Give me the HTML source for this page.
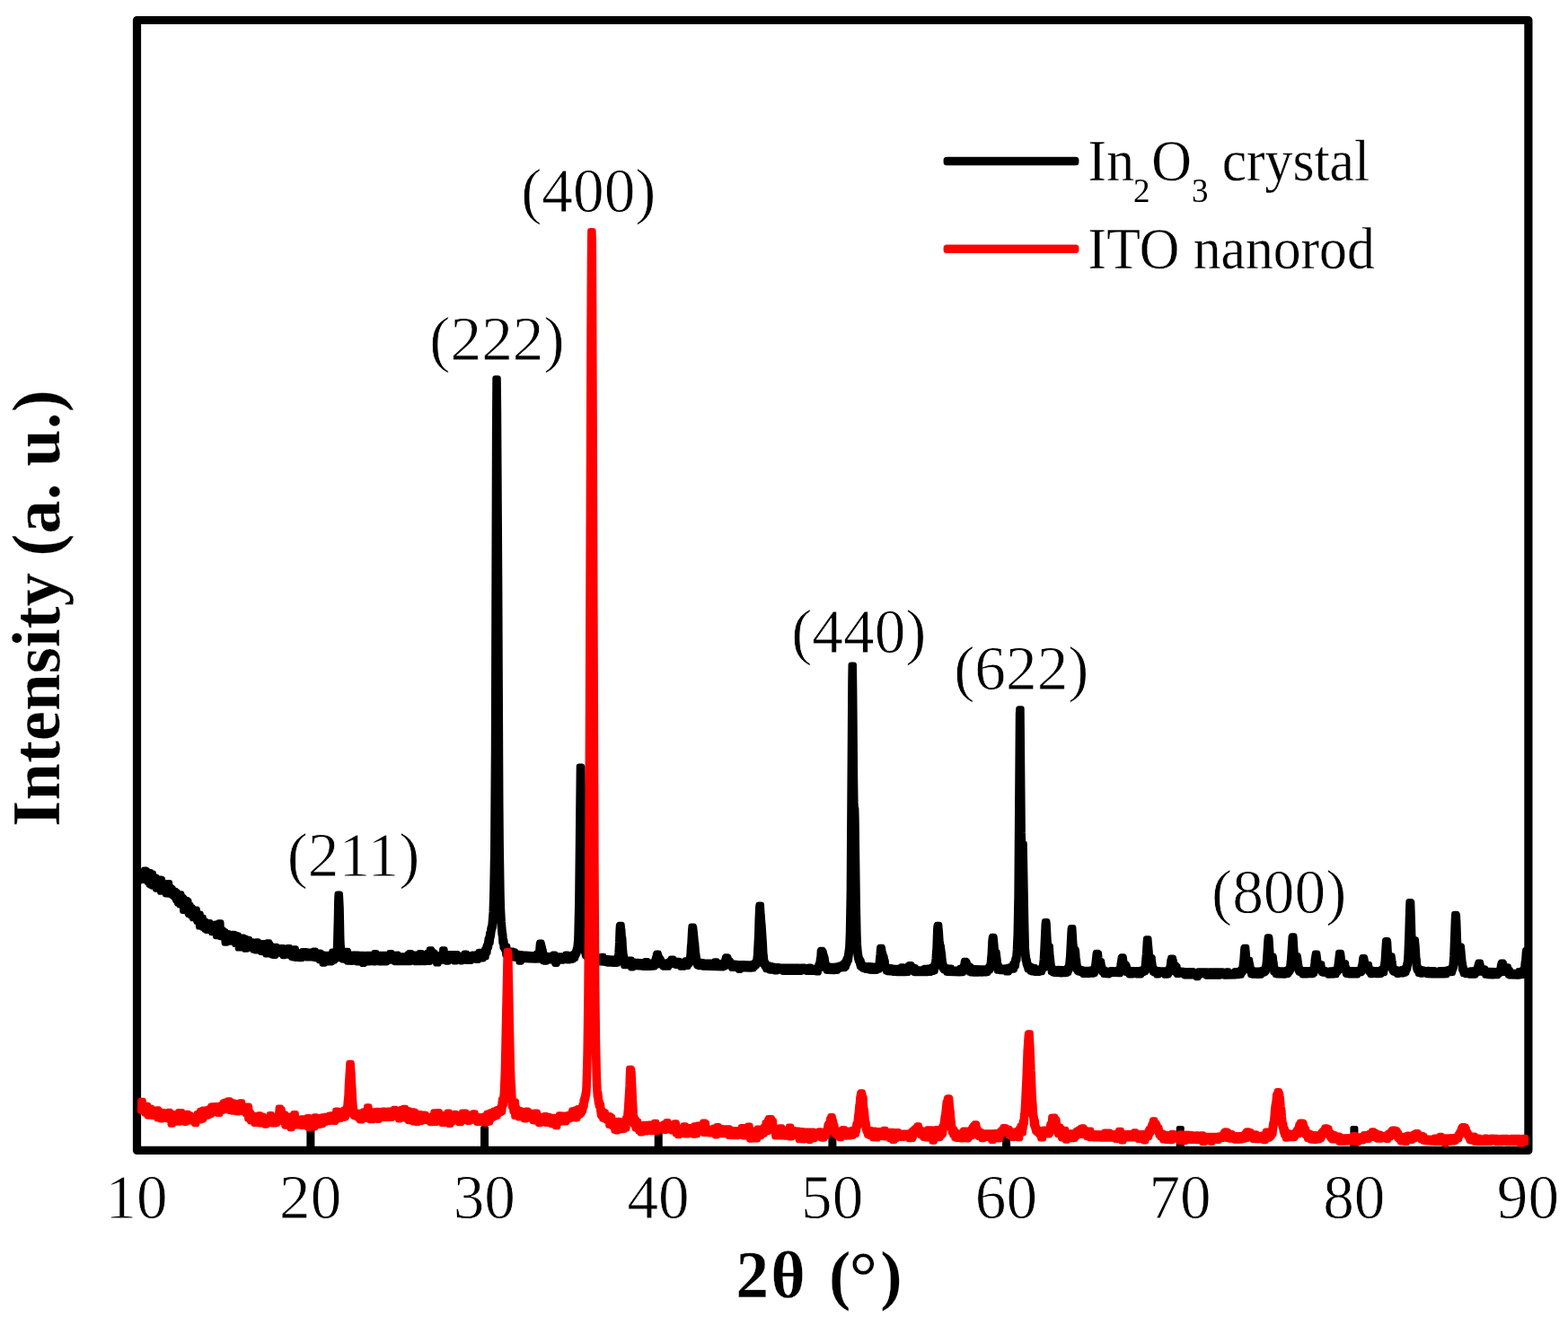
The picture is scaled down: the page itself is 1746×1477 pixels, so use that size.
<!DOCTYPE html>
<html lang="en"><head><meta charset="utf-8">
<style>
html,body{margin:0;padding:0;background:#fff;}
body{width:1746px;height:1477px;overflow:hidden;}
svg{display:block;}
text{font-family:"Liberation Serif","DejaVu Serif",serif;fill:#000;stroke:#fff;stroke-width:0.8px;paint-order:fill stroke;}
.b{font-weight:bold;stroke-width:0.3px;}
.lg text{stroke-width:0.35px;}
.lg .ns{stroke:none;}
</style></head>
<body>
<svg width="1746" height="1477" viewBox="0 0 1746 1477">
<rect x="0" y="0" width="1746" height="1477" fill="#fff"/>
<g fill="#000"><rect x="341.38" y="1254.0" width="9.0" height="27.0" rx="2.5"/><rect x="535.05" y="1254.0" width="9.0" height="27.0" rx="2.5"/><rect x="728.73" y="1254.0" width="9.0" height="27.0" rx="2.5"/><rect x="922.40" y="1254.0" width="9.0" height="27.0" rx="2.5"/><rect x="1116.08" y="1254.0" width="9.0" height="27.0" rx="2.5"/><rect x="1309.75" y="1254.0" width="9.0" height="27.0" rx="2.5"/><rect x="1503.42" y="1254.0" width="9.0" height="27.0" rx="2.5"/></g>
<rect x="152.5" y="22.5" width="1549.4" height="1258.9" fill="none" stroke="#000" stroke-width="9.2" stroke-linejoin="round"/>
<g stroke-linejoin="round" stroke-width="6.4"><path d="M156.2 970.8L156.5 971.1L157.3 971.1L157.6 972.8L158 971.1L158.8 971.1L159.2 970L159.6 970L160 968.8L163.1 968.8L163.5 969.2L163.8 969.2L164.2 971.7L164.6 971.7L165 971.2L168.1 971.2L168.5 972.8L170.8 972.8L171.2 976.7L174.3 976.7L174.7 980.2L176.2 980.1L176.6 978.7L179.7 978.7L180.1 979.3L180.9 979.3L181.3 985.2L183.2 985.2L183.6 986L184 986L184.4 985.6L185.5 985.6L185.9 983.3L189 983.3L189.4 988.2L191.3 988.2L191.7 989.1L192.5 989.1L192.9 991.9L196 991.9L196.4 993.1L197.5 993.1L197.9 996L198.7 996L199.1 995.5L202.2 995.5L202.6 998.8L204.1 998.8L204.5 999.1L204.9 1000.2L205.7 1000.2L206.1 1002L207.6 1002L209.2 1002.1L209.5 1003.5L210.3 1003.5L210.7 1007.2L211.1 1007.6L212.3 1007.6L212.6 1010.5L214.6 1010.5L215 1014.5L215.7 1014.5L216.1 1014L216.5 1012.7L219.6 1012.7L220.4 1017.6L223.5 1017.6L223.9 1021.8L226.6 1021.8L227 1025.4L229.3 1025.4L229.7 1027.2L234.3 1027.3L234.7 1028.6L236.3 1028.6L236.7 1029.8L238.6 1029.8L239 1030L239.4 1028.6L242.5 1028.6L242.9 1032L243.2 1027.4L246.3 1027.4L246.7 1034.5L247.5 1034.5L247.9 1035.5L249.1 1035.5L249.4 1037.1L251.4 1037.1L251.8 1039.3L254.9 1039.3L255.2 1040.6L258 1040.6L258.3 1040L261.4 1040L261.8 1040.2L262.2 1040.2L262.6 1040.9L264.2 1040.9L264.5 1041.4L265.7 1041.4L266.1 1045.7L267.6 1045.7L268 1043.6L271.1 1043.6L271.5 1043.7L271.9 1044.8L274.2 1044.8L274.6 1046.6L275 1045.9L278.1 1045.9L278.5 1047.8L279.6 1047.9L280 1048.2L280.8 1048.2L281.2 1048.4L281.6 1048.4L282 1049L283.5 1049L283.9 1049.1L284.3 1049.4L284.7 1048.5L287.8 1048.5L288.2 1050.9L290.5 1050.9L290.9 1052.6L291.3 1052.8L291.7 1050.2L294.8 1050.2L295.1 1052L295.5 1052L295.9 1054L296.7 1054L297.1 1049.4L300.2 1049.4L300.6 1051.1L301.3 1051.2L301.7 1053L302.9 1053.1L303.3 1055L305.2 1055L305.6 1054L308.7 1054L309.1 1055.9L310.2 1055.9L310.6 1056.3L312.2 1056.3L312.6 1055.3L315.7 1055.3L316.1 1055.8L318.4 1055.8L318.8 1057.5L319.5 1057.7L319.9 1055.2L323 1055.2L323.4 1056.9L323.8 1057.3L325.7 1057.3L326.1 1057.9L326.5 1056.5L329.6 1056.5L330 1059.9L331.2 1060L331.5 1060.3L335.8 1060.4L336.2 1059.1L339.3 1059.1L340.8 1059.2L342.4 1059.4L342.8 1059.6L345.1 1059.6L345.5 1059.9L348.2 1059.9L348.6 1058.6L351.7 1058.6L352.1 1060.3L353.2 1060.3L353.6 1062L354 1062L354.4 1060.7L357.5 1060.7L357.9 1062.5L360.6 1062.5L361 1062.7L369.1 1062.9L369.5 1059.7L372.6 1059.7L373 1059.9L373.8 1059.9L374.1 1053.3L374.9 1024.2L375.3 1002.3L375.7 995.8L378.8 995.8L379.6 1011L380.3 1045.8L380.7 1054.2L381.5 1060.9L382.7 1060.9L383.1 1063.3L384.2 1063.3L384.6 1059L387.7 1059L388.1 1062.2L388.5 1062.2L388.9 1065.5L389.3 1065.6L389.6 1064.1L391.2 1064.1L391.6 1062.6L394.7 1062.6L395.1 1065.8L395.4 1062.8L398.9 1062.8L399.3 1064.5L399.7 1064.5L400.1 1062.9L405.1 1062.9L405.5 1064.5L406.7 1064.5L407.1 1062.9L416 1062.9L416.4 1061.3L419.5 1061.3L419.8 1062.9L433 1062.9L433.4 1061.3L436.5 1061.3L436.9 1062.9L437.3 1062.9L437.7 1064.5L438.1 1062.9L443.5 1062.8L443.9 1064.4L452.8 1064.4L453.2 1062.8L454.7 1062.8L455.1 1061.2L458.2 1061.2L458.6 1064.4L460.5 1064.4L460.9 1062.8L466.3 1062.8L466.7 1061.1L469.8 1061.1L470.2 1062.7L474.8 1062.7L475.2 1061L477.6 1061L477.9 1057.5L481 1057.5L481.4 1058.1L481.8 1059.7L482.2 1059.7L482.6 1060.4L484.1 1060.4L484.5 1062.5L486.1 1062.5L486.5 1065.7L487.6 1065.7L488 1064L491.1 1064L491.5 1062.1L491.9 1062.1L492.3 1057.5L495.4 1057.5L495.8 1062L496.9 1062L497.3 1062.2L509.7 1062.1L510.1 1063.6L512.4 1063.6L512.8 1065L514.4 1065L514.7 1063.4L516.3 1063.3L516.7 1061.7L519.8 1061.7L520.2 1063.1L522.5 1063.1L522.9 1064.5L523.6 1064.5L525.2 1064.3L525.6 1062.7L528.7 1062.7L529.1 1063.8L530.2 1063.6L530.6 1062L532.2 1061.9L532.6 1060L535.7 1060L536 1061L536.8 1061L537.2 1059.7L537.6 1059.4L538.8 1059.4L539.1 1057.4L539.5 1056.7L540.3 1056.7L540.7 1053.7L541.1 1052.5L541.8 1052.5L542.6 1046.3L543 1044.5L543.4 1044.5L543.8 1044.1L544.2 1039.1L544.6 1039.1L544.9 1038.6L545.3 1035L545.7 1032.9L546.5 1030.6L547.7 1015.7L548.4 991.6L549.2 946.8L550 833.4L551.1 481.3L551.5 421.5L554.6 421.5L555 456.4L556.2 658.5L557.3 894.3L557.7 940.7L558.5 994.6L558.9 1010.5L559.7 1026.5L560.8 1038.8L561.2 1040.2L561.6 1046.4L562 1046.4L562.4 1048.2L562.8 1052.5L563.2 1052.5L563.5 1053.7L565.1 1053.7L565.5 1058L565.9 1058L566.2 1058.4L567.8 1058.4L568.2 1058.7L571.3 1058.7L571.7 1059.1L572.4 1059.1L572.8 1059.5L574 1059.5L574.4 1061.5L575.9 1061.5L576.3 1061.7L577.1 1061.7L577.5 1062L579 1062L579.4 1062.2L580.2 1062.2L581.4 1062.3L581.7 1064.1L582.5 1064.1L582.9 1062.8L586 1062.8L588.7 1063L591.8 1063.2L596.5 1063.4L596.8 1061.8L598.4 1061.8L598.8 1060.8L599.2 1060.8L599.9 1051.4L600.3 1049.7L603.4 1049.7L603.8 1051.3L604.2 1054.2L604.6 1054.2L605 1057.2L605.4 1057.4L606.5 1063.9L610 1064L610.4 1064.2L615 1064.3L615.4 1062.8L618.5 1062.8L618.9 1064.5L622.4 1064.5L622.8 1066.1L623.2 1064.5L629 1064.4L629.4 1062.8L632.5 1062.8L632.9 1064.3L634 1064.3L634.4 1065.5L634.8 1065.2L635.2 1063.4L636.4 1063.4L636.7 1062.7L637.5 1062.1L638.7 1062.1L639.1 1061.9L640.2 1059.3L641 1056.3L641.4 1055.7L642.2 1047.9L642.5 1040.1L643.3 1004.3L644.9 853.7L648 853.7L648.4 854.1L651.1 1017.4L651.8 1040.6L652.2 1049L653 1056.4L653.4 1056.4L653.8 1059.4L654.2 1059.9L654.6 1059.9L654.9 1062.3L656.1 1063.9L656.5 1064.2L657.3 1064.2L657.7 1063.3L660.8 1063.3L661.1 1063.9L663.5 1063.9L663.8 1065.6L664.2 1065.8L665.8 1065.9L666.2 1066L667.3 1066L668.5 1066.1L668.9 1066.4L669.3 1064.9L672.4 1064.9L672.8 1066.6L673.5 1066.7L673.9 1067L676.6 1067.1L677 1067.3L679.3 1067.4L683.6 1067.8L684 1069.3L684.4 1069.2L684.8 1067.5L685.9 1067.5L686.7 1065.4L687.1 1065.2L687.5 1061.8L688.2 1049.4L688.6 1036.7L689 1030.6L689.4 1030L692.5 1030L692.9 1033.7L693.3 1036.1L693.7 1043.9L694.1 1044.1L694.4 1048.1L694.8 1056.2L695.2 1059.5L695.6 1064.7L696 1064.7L696.4 1068.1L696.8 1068.7L697.9 1068.7L698.3 1068.9L698.7 1069.8L700.3 1069.8L700.6 1068.6L703.7 1068.6L704.1 1070.4L704.5 1070.4L704.9 1070.7L707.2 1070.7L707.6 1072.4L708 1071L711.1 1071L711.5 1071.2L715 1071.3L715.4 1072.9L716.9 1073L717.3 1071.6L717.7 1071.6L718.1 1070.1L721.2 1070.1L721.6 1071.7L727 1071.6L727.4 1072.3L727.8 1071.9L728.1 1071.9L728.5 1068.8L729.3 1065.9L729.7 1065.7L730.1 1062.6L730.5 1061.7L733.6 1061.7L734 1063.4L735.5 1066.9L735.9 1067.5L736.3 1067.5L736.7 1068.5L737 1070.5L737.8 1070.5L738.6 1071.2L739 1071.2L739.4 1072.9L741.7 1073.1L742.1 1071.5L743.6 1071.2L744 1071L744.4 1071L745.2 1069.6L745.6 1069.6L746 1069.4L746.7 1067.8L750.2 1067.7L752.9 1071.2L753.3 1071.3L753.7 1069.9L756.8 1069.9L757.2 1071.5L759.5 1071.5L759.9 1072.9L762.2 1072.6L762.6 1069.4L766.5 1069.3L766.9 1068L767.6 1062.2L768 1054.2L768.4 1051.2L769.2 1035.8L769.6 1031.7L772.7 1031.7L773.1 1033.1L774.2 1043.3L774.6 1048.2L775 1050.1L775.8 1060.1L776.6 1065.3L776.9 1069.1L777.3 1069.1L777.7 1070.2L778.1 1070.7L780 1070.7L780.8 1071.1L781.6 1071.1L783.5 1071.3L783.9 1071.5L792.4 1071.8L795.1 1072L795.5 1070.5L798.6 1070.5L799 1072.1L804.4 1072.1L804.8 1073.2L805.2 1073.2L805.6 1073L806 1070.2L807.1 1066L807.5 1065.5L810.6 1065.5L811 1065.8L811.8 1067.5L812.2 1069.6L813 1069.6L813.7 1069.7L814.1 1071.1L814.5 1071.1L814.9 1072L815.3 1072L815.7 1072.3L820.3 1072.9L820.7 1073.1L823.4 1073.1L823.8 1074.7L824.6 1074.7L825 1073.3L828.1 1073.3L832.7 1073.5L833.1 1075.1L833.5 1075.1L833.9 1073.5L837 1073.5L837.4 1073L837.7 1073L838.1 1072.7L838.5 1072.7L839.3 1072L839.7 1072L840.1 1071.1L841.2 1071.1L842 1063.6L843.2 1041.1L843.6 1025.9L844.3 1010L844.7 1007.6L847.8 1007.6L848.2 1015.8L848.6 1019.7L849 1026.1L849.4 1029.3L850.9 1052.3L851.3 1061.3L851.7 1064.4L852.1 1069.5L852.5 1070.3L852.9 1071.9L853.2 1072.1L853.6 1072.1L854 1074.3L854.4 1074.4L856.7 1074.4L857.1 1074.6L857.5 1075.3L859.8 1075.3L860.2 1075.6L861.8 1075.6L862.1 1077.3L862.9 1077.4L863.3 1076.2L866.8 1076.2L868.7 1076.4L880.7 1076.7L881.1 1078.3L881.5 1076.7L890 1076.7L890.4 1078.3L891.6 1078.3L892 1076.7L896.2 1076.7L896.6 1078.2L899.7 1078.2L900.1 1076.6L903.2 1076.6L903.6 1078L907.5 1077.7L908.2 1077.5L908.6 1077.5L909.8 1076.7L910.2 1076.3L910.6 1074L911.3 1074L912.1 1067.6L912.5 1065.6L912.9 1058.9L913.3 1058L916.4 1058L916.8 1059L917.1 1059L917.5 1059.7L918.3 1063.2L918.7 1064.1L919.1 1066.6L919.5 1066.6L919.9 1070.1L920.6 1073.5L921 1074L921.4 1074L921.8 1075.1L922.2 1075.1L922.6 1075.6L923.3 1075.6L923.7 1075.8L924.9 1075.8L925.3 1077.5L925.7 1075.9L928.4 1075.9L932.2 1075.5L932.6 1075.2L933.8 1075.2L934.2 1074.8L937.3 1074.5L937.7 1073.2L938.8 1073.2L939.2 1071.9L940.4 1071.9L940.8 1071.3L941.2 1068.9L941.5 1068.9L941.9 1066.9L942.7 1066.9L944.3 1054.8L944.6 1048.2L945 1037.7L945.8 992.2L947.4 760.4L947.7 740.6L950.8 740.6L951.2 770.8L952 866.8L952.4 895.2L952.8 900.7L953.2 900.7L953.5 912.3L954.7 1003.9L955.5 1041.7L955.9 1051.7L956.6 1060.5L957.4 1065.4L957.8 1067.1L958.2 1067.9L958.6 1067.9L959 1068.9L959.4 1070.3L959.7 1070.3L960.1 1073.4L960.9 1073.4L961.7 1074.3L962.1 1074.3L963.2 1075.2L963.6 1075.2L965.2 1075.9L965.6 1075.9L965.9 1076.2L966.3 1075.1L969.4 1075.1L969.8 1075.4L971.4 1075.4L971.8 1075.7L975.6 1075.7L976 1076.5L976.4 1076.5L976.8 1075.3L977.2 1075.3L977.6 1074L978.7 1062.7L979.1 1057.3L979.5 1054.9L982.6 1054.9L983 1056.3L983.4 1059.8L984.1 1061.7L984.5 1064.9L985.3 1064.9L985.7 1067.6L986.1 1069.3L986.5 1069.7L986.9 1073.2L987.6 1075.9L988.4 1077.3L989.2 1078.1L989.6 1077.3L992.7 1077.3L993.1 1077.6L995.4 1077.6L995.8 1077.9L1000.8 1078L1001.2 1079.6L1002.7 1079.6L1003.1 1076.4L1006.2 1076.4L1006.6 1078L1007 1078L1007.4 1079.5L1008.2 1079.5L1008.5 1079.3L1009.3 1079.3L1009.7 1078.6L1010.1 1076.5L1010.5 1076.5L1010.9 1074.9L1011.3 1074.9L1012 1074.2L1015.1 1074.2L1015.5 1075L1015.9 1075L1016.3 1076.2L1016.7 1076.2L1018.2 1077L1019.8 1077.1L1020.2 1079L1020.6 1079.3L1020.9 1079.3L1021.3 1079.5L1028.3 1079.5L1028.7 1077.9L1032.2 1077.8L1034.1 1077.7L1034.5 1077.5L1036 1077.5L1036.4 1077L1038.8 1076.9L1039.1 1074.7L1039.5 1073.7L1039.9 1073.7L1040.3 1071.3L1040.7 1067.5L1041.1 1060.4L1041.5 1056.3L1042.2 1035.8L1042.6 1031.2L1043 1030L1046.1 1030L1046.9 1038.6L1047.3 1046.1L1047.7 1050.2L1048.1 1052.2L1048.8 1054L1049.2 1058.1L1050 1063L1050.4 1068.5L1050.8 1071.6L1051.1 1072.3L1051.5 1075.5L1052.3 1075.6L1052.7 1076L1053.1 1077.4L1055.8 1077.4L1056.2 1077.6L1057 1077.6L1057.3 1077.8L1059.7 1077.8L1060.1 1079.5L1067.8 1079.6L1068.2 1078L1070.5 1077.9L1071.3 1076.6L1071.7 1076.6L1072.1 1074.7L1072.5 1074.7L1072.8 1071.6L1073.2 1070L1076.3 1070L1076.7 1070.6L1077.1 1070.6L1077.5 1071.6L1077.9 1073.9L1078.3 1073.9L1078.6 1074.7L1079 1075L1079.8 1075.2L1080.6 1076.3L1081.4 1076.3L1081.7 1078L1083.3 1078L1083.7 1078.3L1085.2 1078.3L1093 1078.4L1097.6 1078.2L1098 1079.2L1099.6 1078.5L1099.9 1078.2L1100.3 1076.1L1100.7 1075.5L1101.1 1075.5L1101.5 1074.5L1101.9 1071.9L1102.3 1066.6L1102.7 1063.1L1103.4 1048.6L1103.8 1044.9L1104.2 1042.9L1107.3 1042.9L1107.7 1045.1L1108.9 1058.5L1110 1060.1L1110.4 1060.1L1111.6 1069.5L1112 1073.8L1112.3 1074.4L1112.7 1074.4L1113.1 1077.1L1114.7 1077.1L1115.1 1077.6L1118.5 1077.7L1118.9 1079.1L1119.3 1079L1119.7 1077.4L1121.6 1077.4L1122 1076.9L1123.6 1076.8L1124 1076.1L1126.7 1076.1L1127.1 1075.1L1127.4 1072.9L1128.6 1072.9L1129.4 1067.7L1129.8 1067.5L1130.2 1066.8L1130.9 1058L1131.7 1039.8L1132.5 999L1134 795.1L1134.4 789.5L1137.5 789.5L1138.7 927.4L1139.1 939.7L1140.6 939.7L1142.2 1028.7L1142.9 1056.8L1143.7 1065.2L1144.1 1067.9L1144.5 1068.2L1144.9 1071.3L1146 1074.2L1146.8 1075.7L1148.7 1075.7L1149.1 1077.6L1149.5 1077.8L1149.9 1077.3L1153 1077.3L1153.4 1079L1154.9 1079.2L1157.3 1078.7L1157.7 1078.7L1158.8 1077.5L1159.6 1076L1160 1076L1160.8 1068.8L1161.5 1056.1L1162.7 1029.4L1163.1 1026.2L1166.2 1026.2L1166.6 1029.2L1167.7 1050.2L1168.1 1053.6L1169.7 1053.6L1170.4 1064.5L1171.2 1070.9L1171.6 1075.3L1172 1075.7L1173.1 1078.8L1173.5 1078.8L1174.7 1079.7L1175.1 1079.7L1175.5 1080L1177 1080.3L1177.4 1079L1184 1079.1L1184.4 1080.4L1185.5 1080.3L1186.7 1079.6L1187.1 1079.6L1187.5 1079L1187.9 1077L1188.6 1077L1189 1075.6L1189.4 1073.3L1190.2 1064.4L1191.4 1041L1191.7 1035.4L1192.1 1033.1L1195.2 1033.1L1196.4 1052.4L1196.8 1056.9L1198.3 1056.9L1198.7 1058.2L1199.1 1061.2L1199.5 1068.2L1199.9 1068.7L1200.3 1073.4L1201 1077.3L1201.4 1077.5L1201.8 1077.5L1202.2 1078.7L1203.4 1078.7L1203.7 1079.1L1204.9 1079.2L1205.3 1079.5L1206.1 1079.5L1206.5 1079.8L1213 1079.9L1213.4 1081.3L1213.8 1081.2L1214.2 1079.6L1215 1079.6L1215.4 1079.3L1215.8 1079.3L1216.1 1078.9L1217.3 1078.9L1217.7 1077.9L1218.5 1073.6L1219.6 1063.1L1220 1060.9L1223.1 1060.9L1223.5 1061.8L1223.9 1061.8L1224.3 1066.6L1224.7 1069.5L1225 1070.1L1226.6 1070.1L1227 1070.5L1227.4 1073.4L1228.5 1078.2L1228.9 1079.2L1229.3 1079.7L1231.2 1079.7L1231.6 1081.5L1235.9 1081.7L1236.3 1080.2L1240.2 1080.2L1240.5 1081.7L1243.2 1081.4L1243.6 1079.7L1245.6 1079.7L1246.3 1076.3L1247.9 1065.9L1248.3 1065.5L1251.4 1065.5L1251.8 1066.9L1252.2 1071L1252.5 1071.9L1252.9 1072.1L1253.3 1073.1L1254.1 1073.1L1254.5 1074.2L1254.9 1074.8L1255.3 1074.8L1256.4 1078.6L1256.8 1080.3L1257.2 1080.1L1261.1 1080.2L1263 1080.3L1263.4 1081.9L1264.6 1081.9L1264.9 1080.3L1268.8 1080.2L1269.2 1081.5L1271.1 1080.9L1271.5 1079L1273.1 1079L1273.5 1078.6L1273.8 1076.3L1275 1062.2L1275.8 1049.1L1276.2 1045.4L1279.3 1045.4L1279.7 1050.6L1280.4 1057.8L1280.8 1064L1281.2 1066.1L1283.1 1066.1L1283.5 1066.4L1283.9 1070.7L1284.7 1075.9L1285.1 1077.7L1285.5 1078.3L1285.9 1078.3L1286.2 1080.4L1286.6 1080.8L1287 1080.2L1290.1 1080.2L1290.5 1081.9L1290.9 1081.9L1291.3 1080.5L1299 1080.5L1299.4 1081.5L1300.2 1081L1300.6 1080.4L1301 1078L1301.3 1078L1301.7 1076.4L1302.1 1074L1302.5 1069.6L1302.9 1068.4L1303.3 1066.7L1306.8 1066.7L1307.2 1068.5L1307.5 1069.4L1308.3 1074.3L1309.5 1074.3L1309.9 1075L1310.3 1075L1310.6 1075.4L1311 1076.1L1311.4 1076.1L1311.8 1078.9L1312.2 1080.7L1315.3 1080.7L1318.4 1080.9L1318.8 1082.6L1319.2 1081.1L1328.8 1081.2L1329.2 1082.8L1333.5 1082.9L1333.9 1081.4L1344.3 1081.5L1344.7 1083.1L1345.9 1083.1L1346.3 1081.5L1361.8 1081.5L1362.2 1083L1364.9 1083L1365.2 1081.4L1368.3 1081.4L1368.7 1082.9L1374.2 1082.7L1374.5 1081.1L1377.6 1081.1L1378 1082.3L1379.6 1082.1L1380.4 1081.6L1380.7 1079.8L1381.5 1079.8L1381.9 1078.1L1382.3 1078.1L1382.7 1076.4L1383.1 1071.8L1383.5 1069.5L1384.2 1058.7L1384.6 1055.4L1385 1054.9L1388.1 1054.9L1389.3 1068.9L1392 1068.9L1392.4 1072.7L1392.7 1072.7L1393.1 1074.8L1393.5 1078.4L1393.9 1078.4L1394.3 1079.5L1395.1 1079.5L1395.5 1080.2L1396.2 1080.2L1396.6 1080.6L1402.4 1080.7L1402.8 1080.4L1404.4 1080.4L1404.8 1080L1406.3 1080L1406.7 1078.9L1407.5 1078.9L1407.9 1076.9L1408.2 1076.9L1409 1070.6L1410.6 1045.9L1411 1043.4L1414 1043.4L1414.4 1045.6L1415.6 1064.6L1418.3 1064.6L1418.7 1066L1419.1 1070.4L1419.5 1071.8L1419.9 1076.3L1420.2 1076.9L1420.6 1079.4L1422.2 1079.4L1422.6 1080.2L1424.5 1080.2L1424.9 1080.4L1428.4 1080.4L1428.8 1081.9L1429.9 1081.7L1430.3 1080.1L1432.6 1080L1433 1079.2L1434.2 1079.2L1434.6 1077.4L1435 1077.4L1435.4 1075.9L1435.7 1071.4L1436.1 1068.7L1437.7 1043.7L1438.1 1042.5L1441.2 1042.5L1441.5 1044.4L1441.9 1052.2L1442.7 1064.1L1445.4 1064.1L1445.8 1065.5L1447.4 1076.6L1447.7 1078.3L1448.1 1078.5L1448.5 1078.5L1448.9 1080.6L1451.2 1081.5L1451.6 1080.3L1458.6 1080.3L1459 1079.9L1460.9 1079.8L1461.3 1079.3L1462.1 1076.1L1462.5 1073.5L1462.8 1068.7L1464 1061.8L1467.1 1061.8L1468.7 1073.6L1472.1 1073.5L1472.5 1076.6L1473.3 1079.2L1473.7 1079.7L1474.9 1079.7L1475.2 1080L1476.4 1080.2L1476.8 1081.8L1480.3 1082L1480.7 1080.4L1483.4 1080.4L1483.8 1080.1L1485.3 1080.1L1485.7 1079.7L1487.2 1079.7L1487.6 1079.6L1488.4 1076.8L1490.3 1061L1493.8 1060.9L1494.2 1063.2L1495 1070.3L1495.4 1072.4L1498.1 1072.4L1498.9 1072.5L1499.3 1075.8L1499.6 1077.4L1500 1078.1L1500.4 1078.1L1500.8 1080.4L1501.2 1081.4L1502 1081.4L1502.4 1080.3L1507 1080.3L1507.4 1081.9L1508.2 1081.9L1508.6 1080.3L1513.2 1080.2L1513.6 1080.8L1514 1080.3L1514.4 1077.9L1514.7 1077.9L1515.1 1075L1515.5 1074.4L1515.9 1071.8L1516.3 1067.7L1516.7 1066.1L1519.8 1066.1L1520.6 1069.4L1521.3 1074.3L1521.7 1074L1524.8 1074L1525.2 1076.4L1526.4 1079.6L1526.8 1080L1529.5 1080L1529.9 1081.7L1530.2 1080.1L1534.1 1080.1L1534.5 1081.4L1537.2 1080.7L1537.6 1079L1538.8 1079L1539.1 1078.8L1539.5 1077.7L1539.9 1075.9L1540.7 1070.7L1541.9 1051.5L1542.2 1047.4L1542.6 1047.2L1545.7 1047.2L1546.1 1049.3L1546.9 1064.3L1547.3 1064.4L1550.4 1064.4L1551.2 1069.8L1551.5 1071L1551.9 1075.1L1552.7 1078.4L1553.1 1078.9L1554.3 1078.9L1554.6 1079.2L1555.4 1079.3L1555.8 1079.6L1557.3 1079.6L1557.7 1081.1L1559.7 1080.9L1560.1 1079.2L1560.4 1079.2L1560.8 1079L1562.4 1079L1562.8 1078.1L1564.3 1078.1L1565.1 1076.3L1565.5 1073L1565.9 1072L1566.3 1067.8L1566.6 1061.4L1567.4 1041.7L1568.2 1012.7L1568.6 1004.2L1571.7 1004.2L1572.1 1004.6L1572.8 1025.3L1573.2 1040.1L1573.6 1046.4L1576.7 1046.4L1577.5 1053.8L1578.3 1067.3L1578.7 1068.7L1579 1073.7L1579.4 1076L1579.8 1077.5L1580.2 1077.9L1581 1077.9L1581.4 1079L1582.9 1079L1583.3 1079.5L1584.8 1079.5L1585.2 1079.6L1586 1079.6L1586.4 1081.3L1589.5 1081.5L1589.9 1080L1593.4 1080.1L1593.8 1081.7L1594.1 1081.7L1594.5 1080.1L1597.6 1080.1L1598 1081.7L1601.9 1081.7L1602.3 1080.1L1608.5 1080L1611.6 1079.8L1612 1079.3L1612.3 1079.3L1612.7 1079L1613.1 1079L1613.5 1078.7L1615.1 1078.7L1615.4 1078.3L1616.2 1076L1616.6 1075.3L1617.4 1064.7L1618.9 1024.3L1619.3 1017.9L1622.4 1017.9L1622.8 1019L1623.2 1025.4L1624 1049L1624.4 1053.6L1627.5 1053.6L1627.8 1053.7L1629.4 1071L1629.8 1072.7L1630.2 1076.6L1630.5 1077.5L1630.9 1077.5L1631.3 1079.8L1632.1 1080.7L1632.5 1080.7L1634.8 1081.6L1636.7 1081.8L1637.1 1080.4L1640.2 1080.4L1640.6 1082L1641 1081.9L1641.4 1080.2L1642.9 1080.2L1643.3 1080L1644.9 1074.3L1645.7 1071.7L1648.8 1071.7L1649.1 1074.3L1649.5 1074.3L1649.9 1077.6L1650.3 1078.3L1650.7 1078.3L1651.1 1078.4L1653.8 1078.4L1654.2 1078.7L1654.6 1080.8L1655.3 1080.8L1656.5 1082.2L1657.3 1082.3L1657.7 1081L1666.6 1081.1L1667 1082.3L1667.7 1082.1L1668.1 1080.2L1668.9 1080.2L1669.3 1079.6L1669.7 1078.1L1670.1 1074.7L1670.4 1074.3L1670.8 1072.5L1671.2 1071.7L1674.3 1071.7L1674.7 1072.3L1675.9 1077.2L1676.3 1077.2L1676.6 1076.4L1679.7 1076.4L1680.1 1079.2L1680.5 1079.2L1680.9 1079.9L1681.7 1079.9L1682.1 1082.5L1682.8 1082.5L1683.6 1082.8L1690.2 1082.9L1690.6 1081.3L1692.9 1081.3L1693.3 1080.8L1694.8 1080.8L1695.2 1079.4L1695.6 1079.4L1696 1078.7L1696.4 1076.5L1696.8 1071.8L1697.2 1071L1697.9 1060.6L1698.3 1058.2L1698.8 1058.2L1698.8 1063.5L1698.8 1079.6L1698.7 1083L1698.3 1083L1697.9 1084.4L1697.2 1085L1696.8 1086.8L1693.7 1086.8L1693.3 1085.8L1692.9 1087.4L1690.6 1087.5L1681.7 1087.2L1680.5 1087.2L1680.1 1086.8L1679.3 1086.8L1679 1086.5L1678.6 1083.8L1677.8 1083.6L1677.4 1083.8L1674.3 1083.8L1673.9 1083.6L1673.5 1082L1673.2 1082L1672.8 1081L1672.4 1082.5L1671.6 1084.2L1671.2 1084.2L1670.8 1085L1668.9 1085.4L1668.5 1087.1L1665.4 1087.1L1665 1085.6L1663.5 1085.6L1663.1 1087.2L1656.9 1087.1L1656.5 1086.5L1653.4 1086.5L1653 1084.6L1651.9 1084.6L1651.5 1083.9L1651.1 1083.6L1648.4 1083.6L1648 1083.4L1647.6 1081.8L1646.8 1081.9L1646 1083.7L1645.3 1084.5L1643.7 1084.9L1643.3 1086.5L1635.6 1086.5L1635.2 1084.8L1634.8 1086L1631.7 1086L1631.3 1085L1629 1085L1628.6 1083.1L1628.2 1082.7L1627.8 1081.1L1627.5 1081.1L1627.1 1079.5L1626.7 1075.6L1626.3 1073.9L1625.9 1070.2L1625.5 1071.3L1622.4 1071.3L1622 1070.4L1621.6 1066.9L1621.3 1060.7L1620.9 1059.8L1620.5 1067.6L1619.7 1078.2L1619.3 1078.9L1618.9 1080.3L1618.2 1081.8L1617.8 1083.9L1612 1084.2L1611.6 1086L1606.9 1086.2L1596.1 1086.2L1595.7 1084.6L1595.3 1084.6L1594.9 1086.2L1588.7 1086.1L1588.3 1084.5L1584.8 1084.3L1584.5 1085.5L1581.4 1085.5L1581 1084.8L1579 1084.8L1578.7 1083L1578.3 1082.7L1577.9 1081.9L1577.5 1081.9L1576.7 1080.4L1576.3 1078.9L1575.9 1076.6L1575.6 1071.6L1575.2 1070.2L1574.8 1066.1L1571.7 1066.1L1571.3 1065.3L1570.9 1061.3L1570.5 1053.8L1570.1 1053.5L1569.7 1064.3L1569.4 1070.7L1569 1074.9L1568.6 1075.9L1568.2 1079.2L1567.4 1081L1566.6 1081.9L1566.3 1083.9L1565.5 1083.9L1565.1 1084.6L1563.2 1084.6L1562.8 1085.3L1559.7 1085.3L1559.3 1084.1L1558.5 1084.1L1558.1 1085.7L1555 1085.7L1554.6 1084.1L1552.7 1083.9L1552.3 1083.6L1551.5 1083.6L1551.2 1083.2L1550.8 1083.2L1550.4 1082.8L1549.6 1081.3L1548.4 1076L1548.1 1077.3L1545 1077.3L1544.2 1070.5L1543 1078.8L1542.6 1080.6L1542.2 1081.7L1541.9 1084L1538.8 1084.1L1538.4 1085.8L1536 1085.8L1535.7 1086.1L1532.6 1086.1L1532.2 1084.6L1529.1 1084.6L1528.7 1086L1525.6 1086L1525.2 1084.3L1524.4 1084L1523.7 1083.2L1522.9 1081.5L1522.5 1081.1L1519.4 1081.1L1519 1080.4L1518.2 1077.9L1517.8 1081.2L1517.5 1081.2L1517.1 1083.2L1516.7 1083.7L1515.9 1084.2L1512.4 1084.7L1512 1086.4L1501.6 1086.3L1501.2 1085.7L1498.5 1085.7L1498.1 1085.4L1497.3 1081.6L1496.9 1081.6L1496.5 1080.6L1493.4 1080.6L1493.1 1079L1492.7 1078.1L1492.3 1076.1L1491.9 1077.2L1491.5 1079.7L1490.7 1082.5L1490 1083.6L1489.2 1084.1L1488.8 1084.1L1488.4 1086L1486.5 1086L1486.1 1086.3L1478.3 1086.5L1478 1084.9L1472.9 1084.6L1472.5 1084.4L1472.1 1084.4L1471.8 1084L1471.4 1084L1470.6 1083L1469.4 1079.6L1466.7 1079.6L1466.3 1079.5L1465.9 1076.8L1465.6 1076.5L1465.2 1079L1464.4 1082.2L1464 1084.7L1463.2 1084.7L1462.8 1085.7L1462.1 1085.7L1461.7 1086.1L1458.6 1086.1L1458.2 1084.8L1456.3 1084.9L1455.9 1086.4L1449.7 1086.3L1449.3 1084.6L1445.8 1083.5L1445.4 1082.3L1445 1082.3L1444.3 1079.5L1443.5 1074.4L1440.4 1074.4L1440 1072.7L1439.6 1067.3L1439.2 1071.6L1438.8 1074.3L1438.4 1078.8L1438.1 1080.7L1437.7 1080.7L1437.3 1082.6L1436.5 1083.4L1436.1 1083.4L1435.7 1083.9L1435.4 1084.1L1435 1085.8L1432.3 1085.8L1431.9 1086.4L1430.7 1086.5L1423.7 1086.4L1422.2 1086.4L1421.8 1085.9L1419.9 1085.9L1419.5 1084.1L1419.1 1083.6L1418.7 1083.6L1418.3 1083.2L1417.9 1083L1417.5 1083L1417.1 1079.8L1416.8 1079.2L1416.4 1074.7L1416 1073.3L1414 1073.2L1413.3 1072.5L1412.5 1068.2L1412.1 1073.5L1411.3 1079.8L1411 1079.8L1410.6 1082.4L1410.2 1083L1409.8 1083L1409.4 1083.8L1409 1084L1407.9 1084.4L1407.5 1084.6L1405.5 1084.9L1405.1 1086.6L1399.7 1086.8L1399.3 1085.2L1397.8 1085.2L1397.4 1086.6L1394.3 1086.6L1393.9 1085.9L1392.4 1085.9L1392 1083.4L1391.6 1083.4L1390.8 1081.3L1390.4 1081.3L1390 1077.7L1389.6 1076.7L1387.3 1076.7L1386.9 1075.9L1386.6 1073.8L1386.2 1074.7L1385.8 1079.3L1385.4 1081.3L1385 1081.3L1384.6 1083.4L1384.2 1083.9L1383.8 1083.9L1383.5 1084.5L1383.1 1084.7L1382.7 1086.5L1379.6 1086.5L1379.2 1087.1L1375.7 1087.1L1375.3 1087.3L1362.9 1087.5L1362.5 1085.9L1359.1 1086L1358.7 1087.6L1342.8 1087.6L1342.4 1086L1335.4 1085.9L1334.7 1089L1331.6 1089L1331.2 1087.4L1327.7 1087.4L1327.3 1085.8L1326.5 1085.8L1326.1 1087.3L1318.4 1087.2L1318 1085.6L1313.4 1085.3L1313 1085.8L1309.9 1085.8L1309.5 1084.5L1309.1 1084.5L1308.7 1081.8L1308.3 1080.9L1307.9 1080.9L1307.5 1079L1305.6 1079L1305.2 1078.1L1304.4 1081.2L1304.1 1081.2L1303.7 1083.3L1302.9 1084.2L1302.1 1084.6L1301.7 1086.3L1300.6 1086.3L1300.2 1086.5L1296.3 1086.6L1295.9 1085L1290.9 1085L1290.5 1086.4L1287.4 1086.4L1287 1084.7L1284.7 1084.3L1283.1 1083.3L1282.8 1081.9L1282.4 1081.9L1281.6 1078.8L1280.4 1070.9L1278.5 1070.9L1278.1 1069.8L1277.7 1069.4L1276.9 1079.2L1276.6 1081.5L1276.2 1083L1275.4 1083L1275 1083.3L1274.6 1083.3L1274.2 1083.8L1271.5 1084.5L1271.1 1086.2L1268.4 1086.4L1265.3 1086.4L1264.9 1084.8L1262.2 1084.8L1261.8 1086.3L1258.7 1086.3L1258.4 1086.2L1256.8 1086.2L1256.4 1084.5L1254.9 1084.1L1253.7 1084.1L1253.3 1081.5L1252.5 1078.9L1252.2 1078.7L1251.8 1078.7L1251.4 1077.9L1250.6 1077.9L1250.2 1076.1L1249.8 1076.8L1249.1 1081L1248.7 1083.8L1248.3 1083.8L1247.9 1085.1L1244.8 1085.1L1244.4 1084.6L1235.9 1084.7L1235.5 1086.2L1232 1086.1L1228.5 1085.9L1228.1 1084.1L1227.8 1084.1L1227 1083.7L1226.2 1082.9L1225.4 1081.1L1224.3 1076.3L1223.9 1075.4L1222.3 1075.4L1221.9 1074.4L1221.2 1079.1L1220.4 1082L1220 1082.7L1219.6 1084.8L1218.5 1084.8L1218.1 1085.5L1215 1085.5L1214.6 1084.3L1214.2 1084.3L1213.8 1085.9L1205.3 1085.8L1204.9 1084.2L1202.2 1083.8L1201.8 1083.5L1200.6 1083.4L1200.3 1083L1199.9 1083L1199.1 1082.5L1198.7 1081.3L1198.3 1081.3L1197.9 1080.2L1197.2 1076.3L1196.8 1071.6L1196.4 1071.1L1196 1064.3L1194.4 1064.3L1194.1 1064L1193.7 1060.1L1193.3 1067.3L1192.5 1076.2L1192.1 1078.5L1191.7 1080L1191.4 1080.9L1191 1080.9L1190.6 1081.9L1190.2 1083.9L1189 1083.9L1188.6 1084.6L1188.3 1084.7L1187.1 1084.7L1186.7 1085L1183.6 1085L1183.2 1083.6L1182.8 1085.2L1176.6 1084.9L1173.9 1084.7L1173.5 1084.3L1172.4 1084.3L1172 1084.1L1171.6 1084.1L1171.2 1083L1170 1083L1169.7 1080.8L1168.9 1078.6L1168.5 1078.2L1168.1 1073.8L1167.3 1067.4L1166.6 1057.7L1165.4 1057.7L1165 1056.7L1164.6 1059L1163.9 1071.7L1163.1 1079.1L1162.7 1079.1L1161.9 1080.4L1161.1 1081.1L1160.8 1083L1158.4 1083L1158 1083.7L1151.8 1083.7L1151.5 1083.2L1148.7 1083.2L1148.4 1082.5L1146.8 1082.5L1146.4 1080.7L1146 1080.5L1144.1 1080.4L1143.7 1079.9L1143.3 1077.8L1142.9 1077.1L1141.8 1074.2L1141.4 1071.1L1141 1070.8L1140.6 1068.1L1139.8 1059.7L1139.5 1048.3L1137.9 964.9L1136.4 964.9L1136 961.3L1135.6 1001.9L1134.8 1042.7L1134 1060.9L1133.3 1069.7L1132.9 1070.4L1132.5 1070.6L1131.7 1076.5L1131.3 1076.5L1130.9 1076.7L1130.5 1076.7L1130.2 1078L1129.8 1080.1L1129.4 1080.5L1127.1 1080.5L1126.7 1080.8L1125.9 1081.1L1125.1 1081.1L1124.7 1081.5L1124 1081.7L1123.6 1083.4L1120.1 1083.4L1119.7 1082.2L1114.3 1082L1113.1 1082L1111.6 1081.5L1110 1081.5L1109.6 1078.9L1109.2 1078.9L1108.9 1076.7L1108.5 1072.4L1107.3 1064L1106.9 1064L1106.5 1062.4L1106.1 1061.9L1105.4 1069.5L1105 1074.8L1104.6 1077.4L1104.2 1079L1103.4 1079L1103 1081.1L1102.7 1081.4L1100.7 1082.2L1100.3 1083.9L1099.2 1084L1098.8 1084.2L1096.1 1084.3L1095.7 1084.4L1092.2 1084.5L1091.8 1082.9L1090.3 1083L1089.9 1084.6L1083.7 1084.5L1083.3 1084.3L1080.6 1084.2L1080.2 1083.5L1079 1083.5L1078.3 1080.1L1077.9 1080.1L1076.7 1078.1L1075.2 1077.8L1074.8 1080.3L1074 1080.3L1073.2 1083.7L1072.8 1083.7L1072.5 1084L1069.7 1084L1069.4 1084.2L1055 1083.8L1054.6 1083.6L1053.5 1083.6L1053.1 1082L1052.3 1081.8L1050 1080.9L1049.6 1079.4L1048.8 1079.4L1048.4 1078.4L1048.1 1075.2L1047.7 1074.5L1047.3 1071.4L1046.9 1065.9L1046.1 1061L1045.7 1056.9L1045 1055.1L1044.2 1063.3L1043.8 1070.4L1043.4 1074.2L1043 1076.7L1042.6 1076.7L1042.2 1077.6L1041.5 1081.9L1040.3 1081.9L1039.9 1082.9L1037.2 1082.9L1036.8 1083.7L1033.7 1083.7L1033.3 1082.4L1032.9 1084L1027.9 1084.1L1027.5 1082.5L1026.7 1082.5L1026.4 1084.1L1018.6 1084L1017.8 1083.7L1017.5 1083.7L1017.1 1081.9L1016.7 1081.3L1016.3 1081.3L1015.5 1080.4L1015.1 1080.1L1013.2 1080.3L1012.8 1081.5L1012.4 1083.4L1012 1083.6L1011.6 1083.6L1011.3 1083.9L1008.2 1084.1L998.5 1084.1L998.1 1082.5L997.3 1082.5L996.9 1083.8L993.8 1083.8L993.4 1082.2L992.3 1082.1L991.9 1083.2L987.6 1083L987.2 1082.4L986.1 1082.4L985.7 1080.6L985.3 1080.2L984.5 1078.8L983.8 1076.1L983.4 1072.6L983 1072.2L982.6 1070.5L982.2 1070.3L981.8 1070.3L981.4 1069.4L980.7 1076.9L980.3 1078.7L979.9 1078.7L979.5 1080.6L977.2 1080.6L976.8 1081.7L969.8 1081.7L969.4 1081.5L967.9 1081.5L967.5 1081L964.4 1080.8L964 1080.6L963.2 1080.6L962.5 1080.3L962.1 1080.3L961.7 1079.5L960.1 1079.5L959.7 1078.5L958.6 1078.5L958.2 1077.4L957.4 1077.4L957 1076.9L956.6 1074.1L956.3 1074.1L955.9 1071.8L955.5 1071.3L955.1 1071.3L954.3 1068.3L953.5 1063.4L952.8 1054.6L952.4 1044.6L951.6 1006.8L950.5 915.2L950.1 904.6L949.7 904.6L948.9 995.1L948.1 1040.6L947.7 1051.1L947.4 1057.7L945.8 1070L945 1070L944.6 1072.5L944.3 1072.5L943.9 1074.2L943.1 1075.5L942.7 1077.6L942.3 1077.6L941.9 1078.4L941.5 1078.4L941.2 1079.1L938.1 1079.1L937.7 1078.9L937.3 1078.9L936.9 1079.4L935.3 1079.7L933.4 1080L933 1081.7L931.5 1081.7L931.1 1081.9L928.4 1082L923.3 1081.9L921.4 1081.9L921 1081.6L919.9 1081.6L919.5 1079.8L919.1 1079.2L918.7 1079.2L918.3 1077.6L917.9 1077.6L916.8 1073L916.4 1069.7L916 1069.7L915.6 1068.5L915.2 1070.5L914.4 1077.5L914 1079.1L913.3 1079.2L912.9 1079.6L912.1 1080.1L911.7 1083.4L908.6 1083.4L908.2 1082.1L907.8 1082.1L907.5 1082.5L904 1082.7L897.4 1082.7L897 1081.2L893.1 1081.2L892.7 1082.8L888.1 1082.8L887.7 1081.2L887.3 1081.2L886.9 1082.8L874.9 1082.8L874.5 1081.2L874.2 1082.8L871.1 1082.8L870.7 1081.2L866 1081L865.6 1082.2L862.1 1082.2L861.8 1080.5L861 1080.4L860.6 1081.5L857.5 1081.5L856.7 1081.2L855.9 1081.2L855.6 1080L852.5 1080L852.1 1078.2L850.9 1077.2L850.5 1075.9L850.1 1075.9L849.4 1073.2L849 1072.4L848.6 1067.3L848.2 1064.2L847.8 1055.2L846.7 1038.2L845.1 1066.5L844.3 1074.2L843.9 1074.2L843.6 1075L843.2 1075L842.8 1076.1L842 1076.1L841.6 1077L841.2 1077L840.8 1077.3L840.5 1077.3L840.1 1077.6L839.7 1079.3L836.6 1079.3L836.2 1079.6L828.8 1079.4L826.5 1079.4L826.1 1077.8L825.7 1077.8L825 1080.8L821.9 1080.8L821.5 1079.2L819.9 1079.2L819.5 1077.5L817.6 1077.4L817.2 1078.7L814.1 1078.7L813.7 1076.7L812.6 1076.7L812.2 1076.1L811.8 1076.1L811.4 1075L809.5 1074.9L809.1 1074.3L808.7 1075.9L807.9 1077.3L806 1077.3L805.6 1078.2L790.1 1077.8L782 1077.6L781.6 1075.9L781.2 1075.9L780.8 1077L777.7 1077L777.3 1076.2L775.8 1076.2L775.4 1075.9L775 1073.8L774.2 1072L773.8 1072L773.5 1068.2L772.7 1063L771.9 1053L771.5 1054.1L771.1 1057.1L770.7 1065.1L770 1070.9L769.6 1072.3L769.2 1073.2L768.8 1073.2L768.4 1074.2L767.3 1075L766.9 1075L766.5 1076.9L763.4 1076.9L763 1075.8L762.6 1077.5L757.2 1077.6L756.8 1076L752.5 1075.7L751.8 1075.7L750.6 1075.1L749.1 1073L748.7 1073.3L747.9 1073.3L747.5 1075.2L745.2 1075.2L744.8 1077.6L737.8 1077.6L737.4 1075.9L735.9 1075.5L735.5 1075.5L735.1 1074.5L734.3 1074.5L734 1074L732.8 1074L732.4 1069.8L732 1070.4L731.6 1071.7L731.2 1075.8L730.1 1075.8L729.7 1077.3L728.1 1077.3L727.8 1077.6L724.7 1077.6L724.3 1077.8L718.5 1077.7L715.7 1077.7L715.4 1077.5L712.3 1077.3L708 1077L705.7 1076.9L705.3 1078.2L702.2 1078.2L701.8 1074.9L701 1074.8L700.6 1075.8L697.9 1075.8L697.5 1076.1L694.4 1076.1L694.1 1072.5L693.7 1072L693.3 1071L692.9 1068L692.5 1068L692.1 1062.4L691.7 1059.1L691.3 1052.3L690.6 1064.7L690.2 1068.1L689.8 1068.3L689.4 1069.3L689 1071.4L688.6 1071.7L688.2 1073.5L687.5 1073.5L687.1 1073.8L682.1 1073.9L681.7 1072.3L680.5 1072.2L680.1 1073.6L677 1073.6L676.6 1073.4L675.1 1073.4L674.7 1071.7L673.5 1071.5L672.4 1071.4L672 1072.6L668.5 1072.4L664.6 1072L663.5 1072L662.7 1071.8L661.5 1071.8L661.1 1070.1L660.8 1070L660 1070L659.6 1069.7L659.2 1070.5L656.1 1070.5L655.7 1069.9L654.9 1069.9L654.6 1069.4L654.2 1069.4L653.8 1067.6L653.4 1067.2L651.8 1065.2L651.1 1065.1L650.3 1060.5L649.9 1060.5L649.1 1051.9L648.7 1043.5L648 1020.3L647.2 972.1L646.8 977.2L646.4 1007.2L645.6 1043L645.3 1050.8L644.5 1058.6L644.1 1059.2L643.3 1062.2L642.5 1064.1L641.4 1065.9L641 1067.9L639.1 1067.9L638.7 1069.4L637.9 1069.4L637.5 1069.8L637.1 1069.9L634.8 1069.9L634.4 1070.3L631.3 1070.3L630.9 1069L627.8 1069L627.4 1070.6L621.2 1070.6L620.9 1069L620.5 1073.7L617.4 1073.7L617 1070.5L616.2 1070.4L610.8 1070.2L609.2 1070.2L608.9 1071.6L605.8 1071.6L605.4 1071.4L604.2 1071.2L603.8 1070.3L603.4 1070.3L603 1064.3L602.7 1062.5L602.3 1064.1L601.9 1064.1L601.5 1068.4L600.7 1068.4L600.3 1069.4L596.8 1069.5L589.5 1069.2L585.6 1069L583.3 1068.9L582.9 1068.7L582.1 1068.7L581.7 1070.1L581 1070.1L580.6 1071.5L577.5 1071.5L577.1 1068L575.5 1068L575.2 1067.5L572.1 1067.5L571.7 1067.1L570.5 1067.1L570.1 1066.9L569.7 1066.9L569.3 1065.9L567 1065.9L566.6 1065.4L563.9 1065.4L563.5 1063.6L562.4 1063.6L562 1059.1L561.6 1059.1L560.1 1055.7L559.7 1055.7L559.3 1051.1L558.9 1050.4L558.5 1050.4L558.1 1043.1L557.7 1041.7L556.6 1029.4L555.8 1013.4L555.4 997.5L554.6 943.6L554.2 897.2L553.5 748.7L553.1 836.3L552.3 949.7L551.5 994.5L550.8 1018.6L549.6 1033.5L548.8 1035.8L548.4 1037.9L548 1041.5L547.7 1043.4L547.3 1043.4L546.5 1050.4L545.7 1050.4L545.3 1052.5L544.9 1055.7L544.2 1055.7L543.8 1056.6L543.4 1061L543 1061.9L542.2 1061.9L541.8 1062.5L541.5 1066.2L538.8 1066.2L538.4 1068.4L535.3 1068.4L534.9 1067.8L533.3 1067.8L532.9 1069.8L529.8 1069.8L529.5 1068.7L527.1 1068.7L526.7 1068.9L525.6 1069L525.2 1070.7L522.5 1070.7L522.1 1070.8L518.6 1070.9L518.2 1069.4L515.5 1069.5L515.1 1071.2L512 1071.2L511.6 1069.7L508.5 1069.8L508.2 1071.4L505.1 1071.4L504.7 1068.3L504.3 1069.9L500 1070L499.6 1071.6L496.5 1071.6L496.1 1070L495.8 1069.4L494.6 1069.4L494.2 1068L493.8 1070.6L490.7 1070.6L490.3 1069.9L490 1069.9L489.6 1068.6L488.8 1068.6L488.4 1073.4L485.3 1073.4L484.9 1070.2L483.4 1070.2L483 1070L481.4 1070L481 1069L480.7 1069L480.3 1067.7L479.9 1070.7L479.5 1070.7L479.1 1071.7L476 1071.7L475.6 1070.4L474.5 1070.4L474.1 1072L471 1072L470.6 1070.4L469.8 1070.4L469.4 1072L462.1 1072.1L461.7 1068.9L461.3 1070.5L457.8 1070.5L457.4 1072.1L446.6 1072.1L446.2 1070.5L445.8 1070.5L445.4 1072.1L439.2 1072.1L438.8 1070.6L431.5 1070.6L431.1 1072.2L421.8 1072.2L421.4 1069L421 1069L420.6 1070.6L419.1 1070.6L418.7 1072.2L415.2 1072.2L414.8 1070.6L412.9 1070.6L412.5 1072.2L406.7 1072.2L406.3 1073.8L403.2 1073.8L402.8 1070.6L400.1 1070.6L399.7 1072.2L396.6 1072.2L396.2 1070.5L392.7 1070.3L392.4 1071.8L388.9 1071.6L386.2 1071.6L385.8 1069.7L383.4 1069.7L383.1 1069.6L382.3 1069.6L381.9 1069.2L380.7 1069.2L380 1068.9L379.6 1068.3L379.2 1068.3L378.8 1067.8L378.4 1066.7L377.6 1057.1L377.2 1056.2L376.9 1064.7L376.5 1065.1L375.7 1065.1L375.3 1068.3L374.5 1068.3L374.1 1068.7L373.4 1068.9L373 1070.5L370.3 1070.7L369.9 1072.3L365.2 1072.2L364.9 1069L362.9 1069L362.5 1068.8L362.1 1068.8L361.8 1073.5L358.7 1073.5L358.3 1068.7L357.9 1070L354.8 1070L354.4 1068.2L351.3 1068.1L350.9 1067.9L349.4 1067.9L349 1066.1L346.7 1066.1L346.3 1067.4L342 1067.2L340.5 1067.2L340.1 1067L338.1 1067L337.7 1065.3L337.4 1066.6L337 1066.6L336.6 1068.1L333.5 1068.1L333.1 1067.8L328.8 1067.7L328.4 1067.3L325.7 1067.3L325.3 1066.9L324.2 1066.9L323.8 1065.2L323.4 1065.2L323 1065L320.7 1064.6L320.3 1064.2L318 1064.1L317.6 1065L314.5 1065L314.1 1061.6L313.7 1061.6L313.3 1062.5L310.2 1062.5L309.9 1062.2L307.5 1062L307.1 1064.7L304 1064.7L303.7 1064.4L302.5 1064.4L302.1 1061L301.3 1061L300.9 1060.8L300.2 1060.8L299.8 1059L299 1059L298.6 1063.3L295.5 1063.3L295.1 1061.5L293.2 1061.4L292.8 1060.9L290.1 1060.9L289.7 1059.1L289.3 1059.1L288.9 1058.4L287.8 1058.4L287.4 1059.3L284.3 1059.3L283.9 1059.1L283.5 1059.1L283.1 1058.5L281.2 1058.5L280.8 1056.4L278.9 1056.2L278.5 1055.4L275.8 1055.4L275.4 1057.6L272.3 1057.6L271.9 1053.9L270.4 1053.8L270 1052.6L269.6 1053.9L269.2 1053.9L268.8 1055.2L268.4 1055.2L268 1056.4L264.9 1056.4L264.5 1052L261.4 1051.9L261.1 1048.3L259.9 1048.2L259.5 1048.7L257.6 1048.7L257.2 1049.5L254.1 1049.5L253.7 1048.8L253.3 1048.8L252.9 1050.6L249.8 1050.6L249.4 1045.3L249.1 1045.3L248.7 1045L248.3 1043.8L247.9 1044.1L244.8 1044.1L244.4 1042.9L243.6 1042.9L243.2 1043L240.1 1043L239.8 1039.3L239 1039.3L238.6 1037.5L238.2 1039L235.1 1039L234.7 1037.2L234.3 1036.9L229.3 1036.8L228.9 1035.8L227.7 1035.8L227.4 1033.6L224.7 1033.6L224.3 1032.4L221.2 1032.4L220.8 1027.2L220.4 1026.9L218.5 1026.9L217.7 1023L217.3 1023.1L214.2 1023.1L213.8 1020.8L212.3 1020.8L211.9 1020.3L211.5 1019.3L211.1 1019.3L210.7 1019L209.5 1019L209.2 1018L208.8 1018L208.4 1013.8L208 1013.8L207.6 1010.1L207.2 1010.9L206.8 1012.1L206.4 1014.9L203.3 1014.9L203 1007.8L202.6 1008.3L199.5 1008.3L199.1 1006.3L197.2 1006.3L196.8 1003.1L195.2 1003.1L194.8 1001.1L194.4 1000.5L194.1 1000.5L193.3 999.9L192.9 997.8L190.6 997.8L189.4 996.6L187.1 996.6L186.7 996.4L184 996.4L183.6 994.4L183.2 994.4L182.8 993.3L181.7 993.3L181.3 993.6L178.2 993.6L177.8 990L177.4 990L177 989.8L176.6 986.5L176.2 990.5L173.1 990.5L172.8 987.9L171.6 987.9L171.2 987.6L168.9 987.6L168.5 986.4L166.9 986.4L166.2 985.7L165.8 985.7L165.4 983.2L163.8 983.2L163.5 980.8L161.9 980.7L158.8 980.7L158.4 980.5L158 979.8L156.9 979.8L156.5 978.6L156.2 978.6L156.2 981.6Z" fill="#000" stroke="#000"/>
<path d="M156.2 1226.8L156.2 1227.9L156.5 1226L159.6 1226L160 1229.5L160.7 1230.2L161.1 1232L161.5 1232L161.9 1231L165 1231L165.4 1234.6L165.8 1233.7L168.9 1233.7L169.3 1233.8L169.7 1235.7L170.8 1235.7L171.2 1237.5L172 1237.5L172.4 1236.7L173.5 1236.7L173.9 1235.4L177 1235.4L177.4 1237.1L177.8 1237.5L179.3 1237.5L179.7 1238L182.4 1238.1L182.8 1238.6L185.5 1238.7L185.9 1238.9L186.3 1238.9L186.7 1237.9L189.8 1237.9L190.2 1241.1L190.6 1242.8L191 1240.2L194.1 1240.2L194.8 1240.3L195.2 1240.8L197.2 1240.8L197.5 1242.5L197.9 1241.4L198.3 1238.2L203 1238.3L203.3 1241.5L206.4 1241.5L206.8 1239.9L209.9 1239.9L210.3 1241.5L212.6 1241.5L213 1243.1L218.1 1243L218.5 1243.8L218.8 1240.1L221.9 1240.1L222.3 1237L224.7 1237L225 1235.8L225.4 1235.7L228.5 1235.7L228.9 1235.9L229.3 1235.6L230.1 1235.6L230.5 1235.1L230.8 1234.9L231.6 1234.9L232 1234.4L233.6 1234.4L233.9 1233.6L234.3 1231.8L234.7 1231.8L235.1 1231.5L238.2 1231.5L238.6 1232.9L239 1233.3L239.4 1231.2L244.8 1231.3L245.2 1230.3L245.6 1230.1L247.1 1230.1L247.5 1229.3L247.9 1227.5L249.4 1227.5L249.8 1226.8L252.9 1226.8L253.3 1225.4L256.8 1225.4L257.2 1227.4L259.5 1227.4L260.3 1227.5L260.7 1227.9L263 1227.9L263.4 1229.9L265.7 1229.9L266.1 1230.3L266.5 1230.3L266.9 1227.5L270 1227.5L270.4 1230.8L270.7 1231L271.1 1231.7L273.8 1231.7L274.2 1233.6L274.6 1231.7L277.7 1231.7L278.1 1233.6L278.5 1238.6L280 1238.6L280.4 1240.6L280.8 1241L281.2 1241.7L283.1 1241.7L283.5 1244.1L283.9 1244.1L284.7 1244.7L287 1244.7L287.4 1241.5L290.5 1241.5L290.9 1242.7L293.6 1242.7L294 1244.2L294.8 1244.2L295.1 1245.7L297.1 1245.7L298.6 1245.9L299 1244.4L299.4 1244.4L299.8 1241.3L302.9 1241.3L303.3 1242.9L304.4 1242.9L304.8 1244.5L307.5 1244.5L307.9 1242.4L308.7 1242.4L309.1 1241.8L309.9 1233.7L313 1233.7L313.3 1235.5L314.5 1235.5L314.9 1239.1L315.3 1240.4L318 1240.4L318.4 1247.2L318.8 1247.2L319.2 1244.1L319.5 1242.6L322.6 1242.6L323 1245.8L323.4 1247.5L323.8 1247.5L324.2 1244.7L325.7 1244.7L326.1 1241.6L326.5 1240.1L329.6 1240.1L330 1244.9L330.4 1244.9L330.8 1246.6L333.5 1246.7L334.6 1246.9L335 1245.4L338.1 1245.4L341.2 1245.6L341.6 1244.2L344.7 1244.2L345.1 1245.9L346.7 1245.9L347 1245.5L349 1245.5L349.4 1243.5L352.5 1243.5L352.8 1244.7L353.2 1244.4L354.4 1244.4L354.8 1244.1L357.9 1244.1L358.3 1243.5L361 1243.5L361.4 1242.9L364.5 1242.9L364.9 1243.7L365.2 1243.7L365.6 1243.5L366 1241.8L367.6 1241.8L368 1241.4L371 1241.4L371.4 1242.5L371.8 1240.4L373 1240.4L373.4 1236.8L376.5 1236.8L376.9 1238.3L377.2 1240.8L377.6 1237.2L381.1 1237.1L381.5 1238.4L381.9 1236L383.8 1236L384.2 1234L385 1234L385.4 1232.1L385.8 1226.8L386.5 1220.1L386.9 1209.2L388.5 1183.9L391.6 1183.9L392.4 1194L393.9 1222.4L394.7 1233.7L395.1 1237.5L395.4 1237.5L395.8 1238.1L397 1238.1L397.4 1238.3L397.8 1239L403.6 1239L404 1237.4L407.1 1237.4L407.5 1239L407.8 1237.3L408.2 1232.5L411.3 1232.5L411.7 1235.7L412.1 1237.2L414.8 1237.2L415.2 1238.6L418.3 1238.6L418.7 1236.9L421.8 1236.9L422.2 1238.4L425.3 1238.3L425.7 1236.7L428.8 1236.7L429.1 1238.2L431.1 1238.2L431.5 1236.6L434.6 1236.6L435.3 1239.7L436.1 1239.7L436.5 1238.1L437.7 1238.1L438.1 1234.9L441.2 1234.9L441.5 1236.4L443.9 1236.4L444.2 1238L445.8 1238L446.2 1235L448.5 1235L448.9 1233.9L452 1233.9L452.8 1237.4L453.2 1236.4L456.3 1236.4L456.6 1238.3L457.8 1238.3L458.2 1237.5L461.3 1237.5L461.7 1237.9L463.2 1237.9L463.6 1239.7L464.4 1239.7L464.8 1241.4L465.2 1241.7L465.6 1241.7L465.9 1240.3L469 1240.3L469.4 1242L469.8 1242.2L470.2 1240.8L473.3 1240.8L473.7 1241L474.8 1241L475.2 1242.8L476.4 1242.8L476.8 1243.1L479.5 1243.1L479.9 1243.4L481 1243.4L481.4 1241.8L482.2 1241.8L482.6 1238.5L485.7 1238.5L486.1 1239.8L486.5 1238.1L489.6 1238.1L490 1241L493.4 1241L493.8 1243.9L494.2 1242.2L497.3 1242L497.7 1238.7L500.8 1238.7L501.2 1240.2L501.6 1240.2L502 1243.2L502.3 1241.5L504.7 1241.5L505.1 1240L508.2 1240L508.5 1241.6L513.2 1241.8L514 1238.7L517.1 1238.7L519.4 1238.8L519.8 1240.6L522.5 1240.6L525.2 1240.7L525.6 1242.3L526 1242.3L526.4 1239.4L529.5 1239.4L529.8 1242.7L530.2 1242.7L530.6 1243L532.6 1243L532.9 1244.6L533.7 1244.8L534.1 1243.4L536.4 1243.4L536.8 1242.9L539.5 1242.9L539.9 1241.9L541.5 1241.9L541.8 1239.7L544.9 1239.7L545.3 1238.4L548.4 1238.4L548.8 1239.3L549.2 1236.8L551.9 1236.8L552.3 1235.5L552.7 1235.2L554.6 1235.2L555.4 1234.2L556.2 1234.2L556.6 1232.2L557 1232.2L557.3 1231.8L558.1 1224.1L558.9 1224.1L559.3 1222.2L559.7 1219L560.8 1194.7L563.2 1081.5L563.5 1067.2L563.9 1059.2L567 1059.2L567.4 1066.4L569.7 1181.7L570.5 1206L570.9 1208.8L571.7 1226.8L574.8 1226.8L575.2 1232.2L575.5 1233.7L576.3 1233.7L576.7 1236.6L577.1 1236.6L577.5 1236.3L580.6 1236.3L581 1236.5L581.4 1236.9L582.1 1236.9L582.5 1237.1L582.9 1237.1L583.3 1237.4L584.1 1237.4L584.5 1237.6L584.8 1237.6L585.2 1236.7L588.3 1236.7L588.7 1238.4L589.1 1238.8L591.4 1238.8L591.8 1239.4L594.5 1239.4L594.9 1240.1L595.3 1238.6L598.8 1238.7L599.6 1242.2L600.7 1242.3L601.1 1244.1L601.5 1244.1L601.9 1244.3L602.3 1243.3L605.4 1243.3L605.8 1242.3L608.9 1242.3L609.2 1243L612.3 1243L612.7 1244.9L614.7 1245L615 1244L618.1 1244L618.5 1244.2L620.9 1244.2L621.2 1244.8L622 1241.4L625.1 1241.4L625.5 1243.5L625.9 1241.7L629 1241.7L629.4 1242.2L630.9 1242.2L631.3 1241.3L632.5 1241.1L632.9 1240.6L634 1240.6L634.4 1240.1L635.6 1239.9L636.4 1236.5L639.1 1236.5L639.4 1235.7L642.2 1235.7L642.5 1234.1L645.6 1234.1L646 1233.5L646.8 1233.5L647.2 1232.8L647.6 1230.3L648 1230.3L648.4 1229.6L648.7 1225.1L649.1 1225.1L649.9 1221.2L650.3 1220.3L650.7 1217.1L651.1 1216.1L651.5 1210.5L652.2 1187.9L652.6 1171.1L653.4 1110.5L654.2 1005.8L656.5 367.1L656.9 291.2L657.3 257.3L660.4 257.3L660.8 269.6L661.1 325.2L663.5 963.2L664.2 1093.5L665 1160.8L665.8 1196L666.2 1207.1L666.6 1213.7L666.9 1217.3L667.3 1217.3L668.1 1225.8L668.5 1226.2L668.9 1229.2L669.7 1229.2L670 1230.4L670.4 1234.7L670.8 1237.2L672.4 1237.2L673.1 1238.2L674.3 1238.2L674.7 1238.6L675.1 1242.1L679.7 1242.2L680.1 1243.3L681.3 1243.3L682.1 1244.1L682.4 1246.1L682.8 1249.2L684 1249.2L684.4 1249.4L685.9 1249.4L686.3 1252.1L686.7 1251.1L687.1 1248L690.2 1248L690.6 1249.6L691.3 1249.6L691.7 1251.2L693.7 1251.2L694.1 1250.6L695.2 1250.6L696 1245.2L696.8 1245.2L697.2 1244.5L697.5 1239.4L697.9 1236.2L699.5 1209.9L699.9 1197.4L700.3 1189.9L703.4 1189.9L703.7 1190.2L704.1 1191.1L704.5 1193.9L706.1 1228.3L706.8 1240.5L707.2 1244.7L707.6 1246.2L708.8 1246.3L709.2 1248.6L711.1 1248.6L711.5 1252L711.9 1253.7L712.3 1253.9L712.6 1254.3L713 1254.3L713.4 1253.2L716.1 1253.2L716.5 1251.9L719.6 1251.9L720 1253.5L721.2 1253.5L721.6 1251.8L724.7 1251.8L725 1253.4L725.8 1253.4L727.8 1253.2L728.1 1250L731.2 1250L731.6 1253.2L735.9 1253.4L736.3 1252.8L737.8 1252.8L738.2 1251.5L738.6 1251.2L740.9 1251.1L741.3 1249.2L744.4 1249.2L744.8 1250.8L745.6 1251.1L746 1251.9L747.9 1251.9L748.3 1252.2L749.8 1252.2L750.2 1254L750.6 1250.5L753.7 1250.5L754.1 1252.2L754.5 1255.6L755.6 1255.6L756 1256L759.1 1256.1L759.5 1256.3L759.9 1256.3L760.7 1253.4L763.8 1253.4L764.2 1256.6L764.5 1255.1L769.2 1255.2L769.6 1256.8L770 1255.2L771.9 1255.1L772.3 1253.5L775.4 1253.5L775.8 1252.8L776.2 1252.6L779.3 1252.6L779.7 1254.6L780 1252.8L781.6 1252.8L782 1252.7L782.4 1249.7L785.5 1249.7L785.8 1251L787 1251L787.4 1256.2L788.2 1256.9L788.6 1257.9L788.9 1257L792 1257L793.6 1257.3L794 1255.8L797.1 1255.8L797.5 1254.3L800.6 1254.3L801 1257.6L801.3 1257.6L801.7 1256.1L804.8 1256.1L805.2 1257.8L807.5 1257.8L807.9 1256.4L813 1256.5L813.3 1258.1L818 1258.2L824.6 1258.5L825 1255.3L828.1 1255.3L828.5 1256.9L831.9 1256.9L832.3 1253.8L835.4 1253.8L835.8 1258.6L842.4 1258.5L842.8 1256.8L847.4 1256.8L847.8 1257.9L849.8 1257.9L850.1 1254.5L850.9 1254.5L851.3 1254.3L851.7 1250.3L853.6 1250.3L854 1249.2L854.4 1246.6L854.8 1246.6L855.2 1245.2L859.8 1245.2L860.2 1247.4L860.6 1248.1L861.8 1248.1L862.1 1254L862.5 1255L864.1 1255.1L864.5 1255.7L864.9 1256L866.4 1256L866.8 1259.4L867.2 1258.5L867.6 1258.5L868 1255.4L871.1 1255.4L871.4 1258.6L874.5 1258.8L874.9 1257.4L877.6 1257.4L878 1254.6L881.1 1254.6L881.5 1258L883.8 1258.1L884.2 1258.3L885.8 1258.3L886.2 1258.5L888.5 1258.6L890 1258.7L890.4 1262L890.8 1262L891.2 1259.1L894.3 1259.1L894.7 1262.4L895.1 1262.6L895.5 1262.6L895.8 1259.6L898.9 1259.6L899.3 1259.8L906.3 1259.7L906.7 1261.3L910.9 1261.1L911.3 1259.5L914.4 1259.5L915.2 1262.5L915.6 1262.2L916.4 1262L916.8 1260.3L917.1 1260.1L918.7 1260.1L919.1 1259.9L919.5 1259.2L919.9 1256.7L920.2 1256.7L920.6 1253.1L921 1251.8L921.4 1251.8L921.8 1250.6L922.2 1250.6L922.6 1249.4L923 1249.4L923.3 1245.6L924.1 1245.6L924.5 1243.2L927.6 1243.2L928 1245.4L929.1 1248.9L929.5 1251.9L929.9 1253L930.3 1253L930.7 1257.5L931.1 1258L931.5 1258L931.9 1259L933 1259L933.4 1258.8L936.5 1258.8L936.9 1260.4L937.3 1260.5L937.7 1257.3L940.8 1257.3L941.2 1258.8L943.9 1258.8L944.6 1261.8L946.2 1261.6L946.6 1259.9L947.4 1259.9L947.7 1259.6L948.1 1257.9L951.6 1257.9L952.4 1252.3L952.8 1250.7L953.5 1250.7L954.3 1241.9L954.7 1239.9L955.5 1230.5L955.9 1229.8L956.3 1222.8L957.4 1216.9L957.8 1216.5L960.9 1216.5L961.7 1220.8L962.1 1222.3L962.5 1222.3L963.2 1235L963.6 1235.7L964 1237.9L964.8 1248.7L965.2 1248.7L965.6 1250.9L965.9 1254.4L966.7 1257.2L967.5 1257.3L967.9 1257.9L970.2 1257.9L970.6 1260L971.4 1260L971.8 1258.7L974.9 1258.7L975.2 1262.1L975.6 1262.1L976.4 1259.1L979.9 1259.1L983 1259.3L983.4 1257.9L986.5 1257.9L986.9 1259.6L989.2 1259.6L989.6 1261.3L991.1 1261.3L991.5 1259.9L994.6 1259.9L995 1261.5L997.3 1261.6L997.7 1260.1L1000.8 1260.1L1001.2 1261.8L1008.5 1261.7L1011.6 1261.6L1012 1261.3L1014.7 1261.3L1015.1 1258.9L1015.5 1258.9L1017.1 1257.5L1017.8 1257.5L1018.2 1256.1L1019.8 1256.1L1020.2 1255.4L1020.6 1253.5L1023.7 1253.5L1024 1256.4L1024.4 1256.4L1024.8 1256.6L1025.2 1256.6L1025.6 1258.5L1026 1258.7L1028.7 1258.7L1029.1 1259L1029.5 1259.8L1030.2 1259.8L1030.6 1261.8L1031 1261.8L1031.4 1259L1031.8 1259L1032.2 1257.4L1038.4 1257.4L1039.1 1260.6L1041.1 1260.5L1041.5 1257.3L1044.6 1257.3L1045.3 1259.9L1045.7 1259.6L1046.1 1259.6L1046.9 1258.7L1048.1 1258.7L1048.4 1254.1L1049.2 1254.1L1049.6 1252.4L1050.8 1242.8L1051.1 1242.7L1052.7 1227.5L1053.1 1227.5L1053.5 1226.4L1053.9 1224.1L1054.2 1222.8L1054.6 1222.5L1057.7 1222.5L1058.1 1223.1L1059.3 1236.1L1059.7 1238L1060.1 1244.7L1060.8 1250.7L1061.2 1254.9L1061.6 1255.4L1062 1257.7L1063.2 1257.7L1063.5 1260.1L1065.1 1260.1L1065.5 1262.3L1066.3 1262.3L1066.6 1262.6L1067.4 1262.6L1067.8 1263.1L1068.2 1261.6L1071.3 1261.6L1072.1 1258.6L1076.3 1258.6L1076.7 1260.2L1077.1 1260.2L1077.5 1261.1L1078.3 1261.1L1078.6 1260L1080.2 1260L1080.6 1257.4L1081 1256.7L1081.4 1256.7L1081.7 1255.3L1082.1 1254.6L1082.5 1254.6L1082.9 1253.4L1083.3 1253L1084.1 1253L1084.5 1252.7L1084.8 1251.4L1087.9 1251.4L1088.7 1255.6L1089.1 1256.2L1089.5 1258.2L1090.3 1258.2L1090.7 1259.9L1092.6 1259.9L1093 1260.5L1093.4 1260.5L1093.8 1260.7L1094.1 1261.5L1096.9 1261.5L1104.6 1261.5L1105 1263L1106.1 1262.9L1106.5 1261.2L1110 1261.2L1110.4 1262.1L1112 1262.1L1112.3 1261.9L1112.7 1259.9L1113.1 1259.5L1113.5 1259.5L1113.9 1258.7L1114.3 1258.3L1115.1 1258.3L1115.4 1257.3L1116.2 1256.9L1116.6 1255.2L1119.7 1255.2L1120.1 1255.5L1120.9 1255.5L1121.3 1256.4L1122 1256.4L1122.4 1256.7L1124.3 1256.9L1124.7 1257.2L1125.1 1259L1125.5 1259.9L1127.1 1259.9L1127.4 1260.1L1128.6 1260.1L1129 1261.4L1129.4 1259.8L1130.9 1259.8L1131.3 1259.3L1133.3 1259.3L1133.6 1258.4L1134 1256.5L1134.4 1256.3L1135.2 1256.3L1135.6 1253.6L1137.5 1253.6L1137.9 1248.8L1138.3 1248.8L1138.7 1248.2L1139.1 1241.2L1139.5 1239.8L1140.2 1227.8L1141.4 1202.8L1142.6 1171L1143.7 1154.4L1144.1 1150.9L1144.5 1150.4L1147.6 1150.4L1148.7 1171.8L1149.5 1192.2L1149.9 1198.7L1150.7 1221.3L1151.5 1230.9L1151.8 1238.3L1152.6 1243.9L1153 1248.3L1153.8 1248.3L1154.2 1253L1155.3 1256.3L1155.7 1256.3L1156.1 1257.4L1156.9 1257.4L1157.3 1258.1L1158 1258.1L1158.8 1258.4L1159.2 1258.9L1160.8 1258.9L1161.1 1259.4L1161.5 1257.8L1164.6 1257.8L1165 1259.4L1166.2 1259.4L1167 1258.4L1167.3 1258.4L1167.7 1256.9L1168.5 1251.8L1169.7 1251.8L1170.4 1244L1171.6 1244L1172 1243.7L1175.1 1243.7L1175.5 1245.1L1175.9 1245.2L1177 1247L1177.4 1247L1177.8 1251.5L1178.2 1252.5L1178.6 1252.5L1179 1254.7L1181.3 1254.7L1181.7 1256.2L1182.4 1256.2L1183.2 1260L1183.6 1260.8L1184 1257.9L1187.1 1257.9L1187.5 1261.4L1190.2 1261.4L1192.9 1261.5L1196.4 1261.3L1196.8 1261.8L1197.2 1261.8L1197.5 1260.9L1197.9 1258.9L1199.1 1258.9L1199.5 1258.7L1200.3 1257.8L1202.2 1257.8L1202.6 1256.2L1203.7 1256.2L1204.1 1255.5L1207.2 1255.5L1207.6 1255.9L1208 1257.4L1208.8 1257.4L1209.2 1259.5L1209.6 1259.9L1211.1 1260L1211.5 1260.1L1211.9 1258.6L1215 1258.6L1215.4 1261.9L1216.9 1262L1217.3 1263.7L1218.1 1263.7L1218.5 1262.3L1228.9 1262.4L1229.3 1260.8L1232.4 1260.8L1232.8 1262.3L1233.2 1260.7L1236.3 1260.7L1236.7 1262.3L1241.7 1262.3L1242.1 1263.8L1244.4 1263.8L1244.8 1262.2L1245.2 1259L1248.7 1259L1249.1 1262.2L1249.4 1263.7L1251.4 1263.7L1251.8 1262.1L1258.7 1262L1259.1 1263.6L1261.1 1263.6L1261.5 1262.1L1261.8 1262.1L1262.2 1260.5L1265.3 1260.5L1265.7 1262.1L1273.8 1262.1L1274.6 1261.8L1277.3 1261.8L1277.7 1261.5L1278.5 1257.3L1279.7 1257.3L1280 1256L1280.4 1256L1280.8 1255.8L1281.2 1253.2L1282 1251.4L1282.4 1251.4L1283.1 1247.5L1286.2 1247.5L1286.6 1249.9L1287.4 1249.9L1287.8 1250.4L1288.2 1250.4L1288.6 1252.5L1289.3 1252.5L1289.7 1255L1290.1 1255.3L1290.5 1255.3L1290.9 1255.6L1291.3 1255.6L1291.7 1258.1L1292.4 1259.7L1292.8 1261.5L1295.1 1261.5L1295.9 1262L1296.3 1262.9L1299.4 1262.9L1300.6 1263.1L1301 1263.2L1302.5 1263.2L1303.7 1263.3L1304.1 1261.9L1307.2 1261.9L1307.5 1263.6L1311.8 1263.8L1313 1263.9L1313.4 1262.4L1316.4 1262.4L1316.8 1264.1L1320.3 1264.3L1320.7 1262.8L1325 1262.9L1328.1 1263.1L1328.5 1264.8L1330.8 1264.9L1331.2 1263.4L1334.3 1263.4L1334.7 1265.1L1336.6 1265.1L1337 1263.5L1340.1 1263.5L1340.5 1266.6L1342.4 1266.6L1342.8 1265L1347 1265L1347.4 1266.5L1347.8 1266.5L1348.2 1264.9L1355.6 1264.7L1359.8 1264.3L1360.2 1263.7L1361.4 1263.7L1361.8 1261.4L1362.5 1260.3L1363.3 1260.3L1363.7 1259.5L1367.2 1259.6L1367.6 1260.2L1368 1260.2L1368.3 1260.7L1368.7 1262.4L1372.6 1262.3L1373 1264.3L1374.2 1264.3L1383.5 1264.3L1383.8 1265.2L1384.6 1264.5L1385 1262.5L1385.4 1262.1L1386.6 1262.1L1386.9 1260.3L1387.7 1259.5L1390.8 1259.5L1391.2 1260.3L1393.5 1260.3L1393.9 1262.3L1394.3 1262.7L1395.8 1262.7L1396.2 1262.4L1399.3 1262.4L1399.7 1264L1402.4 1263.9L1404.4 1263.8L1408.2 1263.5L1409 1259.7L1412.1 1259.7L1412.5 1261.1L1412.9 1261.1L1413.3 1260.5L1414 1260.5L1414.4 1260L1415.2 1260L1416.4 1250.7L1417.1 1248.9L1418.3 1234.6L1418.7 1231L1419.5 1227.1L1420.2 1219.2L1420.6 1218.3L1421 1218L1421.4 1217L1421.8 1215.3L1424.9 1215.3L1425.3 1216.1L1425.7 1217.7L1426.1 1218.4L1426.4 1221.2L1426.8 1222.9L1427.6 1233.1L1428.4 1236.8L1428.8 1243.3L1429.5 1250.5L1429.9 1251.8L1430.3 1251.8L1430.7 1255.3L1431.1 1256.5L1431.5 1256.5L1432.3 1259.1L1432.6 1259.1L1433 1261.2L1435 1261.2L1435.4 1261.4L1435.7 1261.8L1436.9 1261.8L1438.1 1261.9L1438.4 1263.5L1439.2 1263.5L1439.6 1263.3L1440 1261.5L1440.4 1261.3L1441.9 1261.3L1442.3 1259.3L1442.7 1259.3L1443.1 1258L1444.3 1258L1444.6 1257.8L1445.4 1252.8L1445.8 1251.9L1446.6 1251.9L1447 1249.8L1450.1 1249.8L1452 1250L1452.4 1250.6L1452.8 1253L1453.2 1253.9L1453.6 1255.8L1453.9 1255.8L1454.3 1257.2L1455.1 1257.2L1455.5 1259.7L1455.9 1261.3L1456.3 1261.3L1456.7 1261.5L1457.4 1261.5L1457.8 1261.8L1459.4 1261.8L1459.8 1263.6L1460.1 1264.4L1460.5 1264.4L1460.9 1263L1465.2 1263.1L1465.6 1264.5L1467.5 1264.4L1467.9 1263.6L1468.3 1263.4L1469 1263.4L1469.4 1262.3L1470.2 1262.3L1470.6 1260.9L1471.8 1259.3L1472.5 1259.3L1473.7 1259.1L1474.5 1255.7L1474.9 1255.5L1478 1255.5L1478.3 1256.2L1479.9 1256.2L1480.3 1256.6L1480.7 1259.3L1481.1 1259.3L1481.4 1259.9L1481.8 1261.2L1482.2 1261.2L1482.6 1261.8L1483.8 1262L1484.2 1263.3L1486.9 1263.3L1487.2 1265.5L1488 1265.5L1488.4 1265.6L1488.8 1264.6L1492.3 1264.7L1492.7 1266.5L1496.2 1266.5L1506.2 1265.9L1506.6 1264.2L1509.7 1264.2L1510.1 1265.7L1510.5 1265.7L1510.9 1267.1L1511.3 1265.5L1512.4 1265.5L1516.3 1265.2L1516.7 1265L1517.5 1265L1517.8 1264.8L1518.2 1263.1L1521.3 1263.1L1521.7 1264.1L1523.3 1264.1L1523.7 1262.3L1524 1262L1526.8 1262L1527.1 1259.5L1530.2 1259.5L1530.6 1260.7L1532.2 1260.8L1532.6 1260.9L1532.9 1261.6L1533.7 1261.6L1534.9 1262.5L1537.2 1262.7L1537.6 1262.9L1538 1263.7L1539.5 1263.7L1540.3 1264L1543.4 1264L1543.8 1263.1L1544.2 1262.9L1544.6 1262.9L1545.3 1261.8L1547.3 1261.8L1547.7 1260.2L1548.1 1259.6L1548.8 1259.6L1549.2 1258.1L1550 1257.6L1553.9 1257.6L1554.6 1258.1L1555 1258.5L1556.2 1258.5L1556.6 1259.2L1557 1261.4L1558.1 1261.5L1558.5 1264.8L1559.7 1264.8L1560.4 1265.6L1560.8 1265L1563.9 1265L1565.1 1265.1L1565.5 1266.8L1565.9 1266.8L1566.6 1263.6L1569.7 1263.6L1570.1 1265.1L1570.9 1265.1L1571.3 1265.6L1571.7 1263.8L1573.2 1263.8L1573.6 1262.6L1574 1262.3L1575.2 1262.3L1575.6 1261.4L1575.9 1261.4L1576.3 1261.2L1579.4 1261.2L1579.8 1262.8L1581.4 1263.2L1582.1 1263.6L1582.5 1264.2L1585.2 1264.3L1585.6 1264.9L1586.4 1264.9L1586.8 1266.7L1587.6 1267.1L1588.3 1267.2L1588.7 1267.7L1591 1267.7L1596.5 1268L1596.9 1266.6L1600 1266.6L1600.3 1268.2L1602.3 1268.2L1602.7 1265L1605.8 1265L1606.1 1266.6L1618.2 1266.3L1618.5 1267.4L1620.9 1266L1621.6 1265.2L1622 1265.2L1622.4 1264.2L1625.5 1258.9L1625.9 1258.9L1626.3 1255.9L1626.7 1255.4L1627.1 1255.4L1627.5 1254.5L1627.8 1254.3L1630.9 1254.3L1631.3 1254.8L1632.5 1254.8L1632.9 1256.5L1633.6 1256.5L1634 1258.8L1637.5 1264.7L1638.3 1265.6L1639.1 1265.6L1639.5 1264.6L1642.6 1264.6L1642.9 1266.3L1644.9 1266.4L1648 1266.6L1648.4 1268.2L1652.6 1268.3L1653 1266.8L1656.1 1266.8L1656.5 1268.4L1659.6 1268.4L1660 1266.8L1667.7 1266.9L1668.1 1268.5L1671.2 1268.5L1671.6 1266.9L1678.6 1266.9L1679 1268.5L1682.1 1268.5L1682.4 1266.9L1692.1 1266.9L1692.5 1268.5L1694.5 1268.5L1694.8 1266.9L1698.8 1266.9L1698.8 1273L1698.8 1271.4L1696 1271.4L1695.2 1274.6L1692.1 1274.6L1691.7 1273L1683.6 1273L1683.2 1271.4L1682.8 1273L1676.3 1273L1675.9 1271.4L1673.5 1271.4L1673.2 1273L1665.4 1273L1665 1271.4L1660.8 1271.3L1660.4 1272.9L1655.3 1272.9L1654.9 1271.3L1654.6 1272.8L1644.1 1272.7L1643.7 1272.5L1641 1272.5L1640.6 1270.8L1640.2 1270.7L1639.8 1271.3L1636.7 1271.3L1636.4 1270.5L1635.6 1270.5L1635.2 1268.5L1634.4 1267.6L1630.9 1261.7L1630.5 1260.4L1629.4 1260.4L1629 1262.7L1628.2 1262.7L1625.5 1267.1L1625.1 1269.2L1623.6 1269.2L1622 1270.1L1621.6 1271.8L1621.3 1271.8L1620.9 1272L1619.3 1272L1618.9 1272.4L1615.8 1272.4L1615.4 1272.6L1612 1272.6L1611.6 1271.1L1610.8 1274.3L1607.7 1274.3L1607.3 1272.7L1596.5 1272.7L1596.1 1271L1595.3 1271L1594.9 1272.5L1585.6 1271.8L1585.2 1271.5L1584.5 1271.5L1584.1 1270.1L1581.7 1270.1L1581.4 1268.4L1579.4 1268.4L1579 1267.4L1576.7 1267.4L1576.3 1268.9L1575.9 1269.2L1573.6 1269.2L1573.2 1270.7L1570.1 1270.7L1569.7 1269.7L1569 1269.7L1568.6 1271.3L1567.4 1271.3L1567 1272.9L1563.9 1272.9L1563.5 1271.3L1562.4 1271.2L1562 1272.2L1558.9 1272.2L1558.5 1270.5L1558.1 1269.9L1557.3 1269.9L1557 1268.9L1556.2 1268.9L1555.4 1268.1L1555 1266.5L1554.3 1266.5L1553.5 1262.4L1552.7 1262.4L1552.3 1261.9L1551.9 1263L1551.5 1263.5L1550.8 1263.5L1550.4 1265.3L1550 1265.8L1549.2 1265.8L1548.8 1267.4L1546.9 1267.4L1546.5 1267.9L1546.1 1269.7L1543 1269.7L1542.6 1268.7L1539.1 1268.6L1538.8 1269.5L1532.9 1269.5L1532.6 1267.3L1532.2 1267.3L1531.8 1265.8L1529.9 1265.8L1529.5 1267.7L1526.4 1267.7L1526 1267.4L1525.2 1267.9L1524.8 1269.7L1521.7 1269.7L1521.3 1269L1520.9 1269L1520.6 1269.4L1519 1269.6L1518.6 1271.2L1515.9 1271.2L1515.5 1271.5L1513.2 1271.6L1512.8 1273.3L1509.7 1273.3L1509.3 1271.8L1508.2 1271.8L1507.8 1270.4L1507.4 1272L1504.3 1272.2L1501.6 1272.2L1501.2 1272.4L1496.9 1272.6L1490.3 1272.5L1490 1270.9L1488 1270.5L1486.5 1270.4L1486.1 1269.8L1485.7 1270.2L1482.6 1270.2L1481.4 1269L1481.1 1267.5L1480.3 1267.5L1479.9 1266.9L1479.5 1265.1L1478.7 1265.1L1478.3 1263.2L1477.6 1263.2L1477.2 1261.6L1476.8 1262.6L1476.4 1263.1L1474.1 1263.3L1473.7 1263.8L1473.3 1265.9L1472.9 1266.4L1472.5 1266.4L1472.1 1268.8L1471.8 1269.2L1469.8 1269.2L1469.4 1270.4L1466.3 1270.4L1465.9 1270.8L1462.8 1270.8L1462.5 1270.6L1460.1 1270.6L1459.8 1270.4L1458.6 1270.4L1458.2 1268.9L1455.5 1268.9L1455.1 1268.5L1454.7 1266.5L1454.3 1265.5L1453.9 1265.5L1453.6 1265L1452.8 1265L1452.4 1262.6L1452 1261.3L1451.2 1261.3L1450.8 1259.3L1450.5 1259.3L1450.1 1256.8L1449.7 1255.9L1449.3 1257.2L1448.5 1257.2L1448.1 1258.2L1447.4 1263.2L1447 1264.1L1445.4 1264.1L1445 1264.3L1443.9 1265.5L1443.1 1265.5L1442.7 1266.2L1442.3 1267.9L1441.2 1267.9L1440.8 1268.1L1436.5 1268.1L1436.1 1267.9L1434.6 1267.9L1434.2 1268.5L1431.1 1268.5L1430.3 1264.7L1429.9 1264.5L1429.2 1264.5L1428.8 1261.3L1428 1261.3L1427.2 1255.8L1426.8 1255.8L1426.4 1253.4L1425.7 1246.2L1425.3 1239.7L1424.5 1236L1423.7 1225.8L1423.3 1224.1L1422.6 1230L1421.8 1233.9L1421.4 1237.5L1420.2 1251.8L1419.5 1253.6L1418.3 1263.7L1417.5 1263.7L1417.1 1265.3L1416.8 1266L1416 1266L1415.6 1267.4L1415.2 1267.4L1414.8 1268L1414.4 1268L1414 1268.4L1413.7 1268.6L1411.3 1268.6L1411 1269.3L1410.2 1269.4L1409.8 1271.1L1406.7 1271.1L1406.3 1269.7L1405.1 1269.7L1404.8 1270L1397.8 1270.1L1397.4 1269.7L1394.3 1269.7L1393.9 1268.1L1392 1268.1L1391.6 1267.7L1391.2 1265.7L1390.8 1265.2L1389.6 1265.2L1389.3 1268.9L1387.3 1268.9L1386.9 1269.5L1384.2 1269.5L1383.8 1270.4L1380.4 1270.6L1374.2 1270.6L1373.8 1268.9L1372.2 1268.9L1371.8 1269.5L1368.7 1269.5L1368.3 1269.1L1366.8 1269.1L1366.4 1267.3L1365.6 1267.3L1365.2 1264.4L1364.9 1264.4L1364.5 1266.6L1363.7 1267.7L1363.3 1267.7L1362.9 1268.7L1359.8 1268.7L1359.4 1269L1358.3 1269.2L1357.9 1270.8L1354.8 1270.8L1354.4 1269.2L1354 1269.4L1351.3 1269.4L1350.5 1272.6L1347.4 1272.6L1347 1271.1L1342.8 1271.2L1342.4 1272.8L1338.1 1272.8L1337.4 1269.6L1333.9 1269.6L1333.5 1271.1L1330 1270.9L1325.4 1270.7L1320.7 1270.5L1320.3 1272L1317.2 1272L1316.8 1270.2L1316.1 1270.2L1315.7 1271.7L1312.6 1271.7L1312.2 1270L1309.9 1269.9L1309.5 1268.3L1308.3 1268.2L1307.9 1269.7L1306 1269.7L1305.6 1271.1L1302.5 1271.1L1302.1 1269.5L1301.3 1269.5L1301 1270.8L1297.9 1270.8L1297.5 1270.3L1294.4 1270.3L1294 1267.3L1291.7 1267.3L1291.3 1265.5L1290.1 1265.5L1289.7 1264.9L1289.3 1262.6L1288.6 1261L1288.2 1259.2L1287.8 1259.2L1287.4 1258.8L1287 1258.8L1286.6 1257.9L1286.2 1256.2L1285.9 1256.2L1285.1 1255L1284.7 1255.2L1284.3 1256.1L1283.9 1258.7L1283.5 1259.6L1283.1 1259.6L1282.8 1261.3L1282.4 1262.1L1281.6 1262.1L1281.2 1262.3L1280.8 1264.4L1280.4 1264.8L1280 1266.7L1279.3 1267.3L1276.9 1267.3L1276.2 1271.3L1273.1 1271.3L1272.7 1268.2L1270.4 1268.3L1270 1269.8L1266.5 1269.8L1266.1 1268.2L1252.2 1268.2L1251.4 1271.4L1248.3 1271.4L1247.9 1269.8L1247.5 1269.8L1247.1 1268.3L1245.2 1268.3L1244.8 1269.9L1241.7 1269.9L1241.3 1268.4L1225 1268.5L1224.7 1266.9L1223.5 1266.9L1223.1 1268.4L1217.3 1268.3L1216.9 1266.7L1216.1 1266.7L1215.8 1268L1212.7 1268L1212.3 1267.1L1209.6 1267.1L1209.2 1265.3L1207.2 1265.3L1206.8 1263.3L1206.1 1262.4L1205.7 1261.4L1205.3 1261.4L1204.9 1260.9L1204.5 1261.1L1204.1 1264.7L1200.6 1264.6L1200.3 1265.8L1199.9 1266.1L1199.5 1266.1L1199.1 1266.6L1198.7 1266.8L1197.9 1266.8L1197.5 1268.8L1195.6 1268.8L1195.2 1269.1L1192.1 1269.1L1191.7 1267.6L1189.4 1267.5L1189 1270.6L1185.9 1270.6L1185.2 1267.3L1184.8 1267L1184.4 1268.2L1181.3 1268.2L1180.5 1264.7L1180.1 1264.1L1177.4 1264.1L1177 1263.2L1176.2 1258.3L1175.9 1258.3L1175.5 1255.7L1175.1 1255.7L1174.7 1254.4L1174.3 1250.3L1173.9 1250.3L1173.5 1249.3L1173.1 1251.4L1172.8 1255.9L1172.4 1257.1L1171.6 1257.1L1171.2 1257.3L1170.4 1262.2L1169.7 1262.2L1169.3 1264L1168.9 1264.4L1165.8 1264.4L1165.4 1263.8L1162.3 1263.9L1161.9 1268.4L1158.4 1268.4L1158 1264.8L1156.5 1264.7L1156.1 1263L1155.7 1262.4L1154.6 1262.4L1154.2 1262.2L1153.8 1261.6L1153.4 1261.6L1153 1261.3L1152.6 1260.3L1152.2 1260.3L1151.8 1258L1151.1 1255.9L1150.7 1254.1L1150.3 1254.1L1149.9 1251.6L1149.5 1246.8L1148.7 1241.2L1148.4 1233.8L1147.6 1224.2L1146.8 1201.6L1146.4 1195.1L1145.6 1174.7L1144.5 1205.7L1143.3 1230.7L1142.6 1242.7L1142.2 1244.1L1141.8 1251.1L1141.4 1252.5L1141 1252.5L1140.6 1256.7L1140.2 1256.7L1139.8 1262.4L1136.7 1262.4L1136 1268L1132.9 1268L1132.5 1265.3L1131.7 1265.3L1131.3 1264.5L1130.9 1266.1L1130.2 1266.1L1129.8 1267.8L1126.3 1267.8L1125.9 1266.1L1124.3 1266.1L1124 1265.6L1122.8 1265.6L1122 1262L1120.1 1262L1119.7 1260.6L1118.5 1260.6L1118.2 1262.1L1117.8 1262.4L1117 1262.4L1116.6 1263.6L1115.8 1263.6L1115.4 1264.8L1114.3 1265.7L1113.9 1269.2L1110.8 1269.2L1110.4 1267.8L1110 1267.2L1109.2 1267.4L1106.9 1267.4L1106.5 1270.8L1103.4 1270.8L1102.7 1267.6L1098.8 1267.7L1098.4 1266.1L1098 1266.1L1097.6 1267.6L1096.1 1267.6L1095.7 1269L1092.6 1269L1092.2 1267L1091 1267L1090.7 1266.7L1088.7 1266.7L1088.3 1264.6L1087.6 1263.4L1087.2 1262.1L1086.8 1262.1L1086.4 1261.4L1086 1259.1L1085.6 1258.5L1084.8 1258.5L1084.5 1260.5L1083.7 1260.5L1083.3 1265.7L1081.4 1265.7L1081 1266.7L1079.4 1266.7L1079 1269.2L1075.9 1269.2L1075.5 1267.9L1072.8 1267.9L1072.5 1269.4L1069.4 1269.4L1069 1267.8L1068.6 1267.6L1068.2 1268.9L1064.7 1268.8L1064.3 1268.2L1062.8 1268.2L1062.4 1268L1062 1264.5L1060.4 1264.5L1060.1 1261.7L1058.9 1261.7L1058.5 1258.3L1058.1 1257.8L1057.7 1253.6L1057 1247.6L1056.6 1240.9L1056.2 1239L1055.8 1235.5L1055.4 1233.5L1054.2 1245.6L1053.9 1245.7L1052.7 1255.3L1052.3 1257.3L1051.5 1257.3L1051.1 1262.9L1050.4 1264.3L1049.6 1264.3L1049.2 1265.5L1047.7 1265.5L1047.3 1267.8L1046.1 1267.8L1045.7 1268.1L1042.6 1268.1L1042.2 1266.6L1041.1 1266.7L1040.7 1271.5L1037.6 1271.5L1037.2 1266.7L1036.8 1265.1L1034.1 1265.1L1033.7 1268.3L1030.6 1268.3L1030.2 1267.7L1027.5 1267.7L1027.1 1265.7L1026.7 1265.7L1026 1265.1L1024.4 1265.1L1024 1263.8L1023.3 1263.8L1022.9 1261.7L1022.1 1260.9L1021.7 1260.9L1021.3 1260.8L1020.6 1261.6L1019 1261.6L1018.6 1263.2L1018.2 1263.2L1017.8 1266.8L1017.5 1266.8L1017.1 1268.7L1015.1 1268.7L1014.7 1269.1L1011.6 1269.1L1011.3 1267.6L1009.7 1267.6L1009.3 1266.2L1007 1266.3L1006.6 1267.9L998.9 1267.9L998.5 1269.4L996.9 1269.4L996.5 1270.9L993.4 1270.9L993.1 1269.1L990 1269.1L989.6 1267.5L986.5 1267.3L983.8 1267.1L981.4 1267.1L981 1265.4L979.5 1265.2L978.7 1265.2L977.9 1268.3L972.1 1268L971 1268L970.6 1266.3L969.8 1266.2L969.4 1266L967.9 1265.8L967.5 1265.1L965.9 1265.1L965.2 1264.4L964.4 1261.1L964 1261.1L963.6 1260.1L962.8 1257.3L962.5 1253.8L962.1 1252.1L961.7 1252.1L960.9 1240.8L960.5 1238.6L960.1 1237.9L959.7 1230.7L959.4 1226.5L959 1232.7L958.6 1233.4L957.8 1242.8L957.4 1244.8L956.6 1254L956.3 1254.8L955.9 1254.8L955.5 1255.2L954.7 1260.8L954.3 1261.6L953.9 1263.8L950.8 1263.8L950.5 1265.8L947.4 1265.9L947 1266.3L945.4 1266.4L941.5 1266.5L941.2 1265L939.6 1265L939.2 1266.6L937.7 1266.6L937.3 1268.1L934.2 1268.1L933.8 1266.4L931.9 1266.2L931.5 1265.4L930.3 1265.4L929.9 1264.6L929.5 1264.6L929.1 1263.3L928.8 1263.3L928.4 1261.5L928 1261.5L927.6 1260.4L927.2 1257.8L926.8 1257.8L926.1 1252.7L925.7 1252.7L925.3 1253.7L924.9 1253.7L924.5 1255L924.1 1255L923.7 1256L923.3 1260.3L923 1260.3L922.6 1262.1L921.8 1263.3L921.4 1265.4L921 1265.7L918.7 1265.7L918.3 1268.4L917.5 1268.5L914.4 1268.5L914 1267.1L912.5 1267.1L912.1 1267.3L907.8 1267.4L907.5 1269L904.4 1269L904 1267.5L903.2 1270.7L900.1 1270.7L899.7 1269.1L897.4 1269L897 1268.8L896.2 1268.8L895.8 1270.2L892 1270.1L891.6 1269.8L888.9 1269.8L888.5 1266.5L887.3 1266.5L886.9 1266.1L883.4 1266.1L883.1 1264.4L882.3 1264.3L881.9 1267.2L878.8 1267.2L878.4 1263.8L877.3 1263.8L876.9 1266.6L873 1266.6L872.6 1264.9L872.2 1264.9L871.8 1266.4L868.7 1266.4L868.3 1266.1L866 1266.1L865.6 1266.4L862.5 1266.4L862.1 1264.4L861.8 1260.8L861.4 1260.5L860.6 1260.5L859 1256.9L858.7 1253.7L857.9 1253.7L857.5 1252.8L857.1 1252.5L856.7 1254.7L856.3 1254.7L855.9 1256.8L855.6 1261L854 1261.1L852.9 1261.1L852.1 1261.7L851.7 1263.6L850.1 1263.6L849.8 1264.2L848.6 1264.4L848.2 1266L846.7 1266.1L844.3 1266.1L843.9 1269.4L840.5 1269.4L840.1 1264.6L839.7 1266.2L837.7 1266.3L837.4 1269.5L834.3 1269.5L833.5 1266.3L826.9 1266.2L826.5 1264.6L822.6 1264.6L822.3 1266.1L818.4 1266L813 1265.8L810.6 1265.8L810.2 1264.1L799.4 1263.7L799 1265.2L795.9 1265.2L795.5 1263.4L790.1 1263.2L789.3 1263.2L788.9 1262.8L787.8 1262.8L787.4 1262.6L787 1262.6L786.6 1262.2L786.2 1262.8L783.1 1262.8L782.7 1258.6L782.4 1258.6L782 1259.8L781.6 1260.1L781.2 1260.1L780.8 1260.8L779.7 1261.6L778.5 1261.6L778.1 1262.4L777.3 1262.5L776.9 1264.3L775 1264.3L774.6 1264.5L771.1 1264.5L770.7 1262.9L767.3 1262.9L766.9 1264.4L761.8 1264.3L761.4 1262.6L760.7 1262.6L760.3 1263.9L757.6 1263.9L757.2 1265.1L754.1 1265.1L753.7 1263.5L752.9 1263.2L751.8 1263.2L751 1259.7L750.6 1260.4L747.5 1260.4L747.1 1259.2L746 1259.2L745.6 1258.7L744 1258.7L743.6 1256.3L743.2 1256.3L742.5 1259.7L739.4 1259.7L739 1258.7L738.6 1258.7L738.2 1259.3L736.3 1259.3L735.9 1259.5L733.2 1259.5L732.8 1260.9L729.3 1260.9L728.9 1259.3L727.4 1259.4L727 1261L723.9 1261L723.5 1259.5L721.6 1259.6L721.2 1261.2L718.1 1261.2L717.7 1261L716.1 1261L715.7 1262.3L712.6 1262.3L712.3 1260.5L711.1 1260.5L710.7 1260.3L710.3 1260.3L709.9 1258.6L709.6 1258.5L709.2 1257.2L706.8 1257.2L706.1 1253L704.9 1253L704.5 1249.1L704.1 1247.6L703.7 1243.4L702.6 1223.4L702.2 1219.5L701 1239.1L700.6 1242.3L700.3 1247.4L699.9 1249.9L699.1 1250.1L698.7 1250.5L698.3 1257.4L696.4 1257.4L696 1258.6L695.2 1258.6L694.8 1258.8L693.3 1259L690.2 1259L689.8 1255.8L689.4 1258.8L689 1258.8L688.6 1260.3L685.5 1260.3L685.2 1259.4L683.6 1259.4L683.2 1255.9L682.8 1254.9L680.5 1254.9L679.3 1253.6L677.4 1253.6L677 1250.1L676.6 1249.4L675.9 1249.4L675.5 1247.9L673.5 1247.9L673.1 1246.6L671.6 1246.5L670.4 1246.5L670 1243.5L668.5 1243.5L668.1 1242.7L667.3 1237.6L666.9 1233.3L666.6 1232.4L665.8 1232.4L665.4 1229.1L665 1228.7L664.2 1221.4L663.8 1221.4L663.1 1210L662.7 1198.9L661.9 1163.7L661.1 1096.4L660.4 966.1L659.2 660.6L658.8 596.3L657.3 1008.7L656.5 1113.4L655.7 1174L655.3 1190.8L654.6 1213.4L654.2 1219L653.8 1220L653.4 1223.2L653 1224.1L652.2 1228L651.8 1228L651.5 1232.5L651.1 1233.7L650.7 1233.7L649.9 1238.2L649.1 1238.2L648.7 1238.6L648.4 1240.8L648 1241.3L646.8 1241.3L646.4 1242.8L644.1 1242.8L643.3 1246.3L640.2 1246.3L639.8 1245.2L638.7 1245.2L638.3 1244.3L637.5 1244.3L637.1 1244.7L636.7 1246.4L636.4 1246.6L635.6 1246.6L635.2 1247.1L634.4 1247.1L634 1247.6L632.1 1247.6L631.7 1248.5L631.3 1250.2L630.9 1250.3L627.8 1250.3L627.4 1249.9L626.7 1249.9L626.3 1250.3L623.2 1250.3L622.8 1251.4L622 1251.4L621.6 1251.7L621.2 1255L618.1 1255L617.8 1251.9L616.6 1251.9L616.2 1253L613.1 1253L612.7 1251.3L612.3 1251.2L612 1249.6L611.6 1249.4L610.8 1249.4L610.4 1251.9L607.3 1251.9L606.9 1250.3L606.5 1249.8L605 1249.8L604.6 1250.8L602.7 1250.8L602.3 1252L599.2 1252L598.4 1248.5L598 1248.5L597.6 1246.8L597.2 1249.3L594.1 1249.3L593.7 1248.9L592.6 1248.9L592.2 1245.7L591.8 1245.4L589.9 1245.2L589.5 1246.2L586.8 1246.2L586.4 1247.3L582.9 1247.2L582.5 1243.9L582.1 1243.4L580.2 1243.3L579.8 1245.3L576.7 1245.3L576.3 1243.5L575.9 1243.4L575.5 1243.7L572.4 1243.7L572.1 1238.3L570.5 1238.3L570.1 1233L569 1233L568.6 1229.8L567.8 1211.7L567.4 1208.9L567 1198.9L565.5 1131.5L565.1 1144.4L563.9 1197.6L562.8 1221.9L561.6 1231.4L560.8 1231.4L560.1 1239L559.3 1239.1L558.9 1239.7L557.3 1239.7L557 1240.4L556.6 1240.4L556.2 1241.1L555 1241.1L554.6 1243.6L553.5 1243.6L553.1 1244.2L552.3 1244.3L551.9 1244.6L550.4 1245.2L549.6 1245.2L549.2 1245.7L547.7 1245.7L547.3 1246.5L546.9 1248.3L546.5 1248.4L546.1 1250.2L544.2 1250.2L543.8 1251L542.6 1251L542.2 1251.5L539.1 1251.5L538.8 1249.3L538.4 1251L530.2 1250.7L529.8 1249L529.1 1249L528.7 1247.4L528.3 1248.6L524.4 1248.5L524 1248.3L523.6 1248.3L523.3 1249.9L520.2 1249.9L519.8 1248.3L515.9 1248.1L515.5 1249.6L514.4 1249.6L514 1251.1L510.5 1251.1L510.1 1247.9L509.7 1247.9L509.3 1249.3L506.2 1249.3L505.8 1247.7L505.4 1247.6L505.1 1249.2L504.3 1249.3L503.9 1250.9L502.7 1250.9L502.3 1252.7L499.2 1252.7L498.9 1249.8L495.8 1249.8L495.4 1248.4L495 1248.5L494.6 1251.8L491.5 1251.8L490.7 1248.9L488.4 1249L488 1249.2L487.6 1249.2L487.2 1250.8L484.1 1250.8L483.8 1249.3L483.4 1249.5L482.2 1249.5L481.8 1251.1L478.3 1251L477.9 1249.4L477.6 1249.4L477.2 1249.1L475.6 1249.1L475.2 1248.8L472.5 1248.8L471.7 1245.5L471.4 1246.7L470.6 1246.7L470.2 1249.8L467.1 1249.8L466.7 1248.1L465.9 1248L465.6 1250.8L462.5 1250.8L462.1 1250.2L459.4 1250.2L459 1246.5L457.4 1246.5L457 1249.1L453.9 1249.1L453.5 1247.4L453.2 1246.9L451.2 1246.9L450.8 1246.1L447 1246L446.6 1245.7L446.2 1247.3L443.1 1247.3L441.9 1242.6L440.4 1242.6L440 1244.2L437.3 1244.3L436.9 1245.9L423.3 1246.1L422.9 1247.7L419.8 1247.7L419.5 1244.7L416 1244.8L415.6 1248.1L411.3 1248.1L410.9 1245L410.6 1246.6L405.5 1246.7L405.1 1243.6L404.7 1245.2L404 1245.2L403.6 1248.4L400.1 1248.4L399.7 1246.7L398.5 1246.7L398.2 1245.1L397.8 1245L395.8 1244.8L395.4 1243.9L393.5 1243.9L392.7 1242.9L392.4 1240.5L392 1240.5L391.6 1236.6L390 1213.1L389.6 1223L388.9 1229.7L388.5 1235L387.7 1239L387.3 1239L386.5 1242.8L386.2 1242.8L385.8 1245L384.6 1245L384.2 1245.6L383.4 1245.8L380.3 1245.8L380 1246.7L378.8 1246.7L378.4 1247.1L376.1 1247.1L375.7 1247.9L374.9 1247.9L374.5 1248.2L374.1 1249.9L371 1249.9L370.7 1248.9L370.3 1249.2L368.7 1249.3L368.3 1249.7L368 1249.7L367.6 1249.9L364.5 1249.9L364.1 1249.1L363.7 1250.8L362.9 1250.8L362.5 1251L361 1251.1L360.6 1251.4L360.2 1253L357.5 1253L357.1 1253.6L355.9 1253.6L355.6 1253.9L354.4 1253.9L354 1254.1L351.7 1254.1L351.3 1256.2L348.2 1256.2L347.8 1255.1L346.7 1255.2L345.9 1255.2L345.5 1256.8L342.4 1256.8L342 1255.1L340.8 1255.1L340.5 1253.4L337.7 1253.3L337.4 1254.7L334.3 1254.7L333.9 1253L332.7 1252.9L332.3 1254.4L329.2 1254.4L328.8 1251.1L327.3 1250.9L326.5 1250.9L326.1 1255.5L325.7 1257L322.6 1257L322.3 1253.8L321.9 1253.8L321.5 1253.6L320.3 1253.6L319.9 1254.5L316.8 1254.5L316.4 1254.3L316.1 1250.9L315.3 1250.2L314.9 1250.1L314.1 1250.1L313.3 1245L312.2 1245L311.8 1245.5L311.4 1247.8L310.6 1247.8L310.2 1249.5L309.9 1249.5L309.5 1250.1L309.1 1251.9L307.9 1251.9L307.5 1252.3L302.5 1252.3L302.1 1250.7L301.7 1250.5L300.9 1250.5L300.6 1252L297.9 1252L297.5 1253.5L294.4 1253.5L294 1250.4L291.7 1250.6L291.3 1252.3L288.2 1252.3L287.8 1249.3L286.2 1249.4L285.8 1251.9L282.7 1251.9L282.4 1251.6L282 1249.7L281.6 1249.4L278.5 1249.4L278.1 1249.1L277.7 1246.5L275.4 1246.5L275 1242L273.8 1242L273.5 1241.3L273.1 1241.3L272.7 1239.4L272.3 1239.1L270.4 1239.1L269.6 1238.5L269.2 1236.6L266.5 1236.5L266.1 1239.3L263 1239.3L262.6 1237.5L261.8 1237.5L261.4 1238.6L258.3 1238.6L258 1238.1L254.9 1238.1L254.5 1236.4L254.1 1236.1L252.1 1236.1L251.8 1234.5L250.6 1234.4L250.2 1234L249.8 1237.3L247.9 1237.3L247.5 1238.3L245.6 1238.3L245.2 1240.9L242.1 1240.9L241.7 1239.7L241.3 1239.7L240.9 1237.7L240.5 1239.8L237.4 1239.8L237 1238.9L236.7 1238.9L236.3 1241.6L235.9 1241.8L234.7 1241.8L234.3 1242.5L233.6 1242.5L233.2 1243L232.4 1243L232 1243.5L230.8 1243.5L230.5 1244.1L227.7 1244.1L227 1247.2L226.6 1247.4L225 1247.4L224.7 1248.2L220.8 1248.1L220.4 1248.4L219.6 1248.7L219.2 1252.1L216.1 1252.1L215.4 1249.2L209.9 1249.2L209.5 1247.6L208.8 1247.6L208 1250.8L204.9 1250.8L204.1 1247.6L200.6 1247.6L200.3 1250.6L196 1250.4L195.6 1249.8L193.3 1249.8L192.9 1252.5L189.8 1252.5L189.4 1249.2L189 1247.6L188.6 1247.5L188.2 1247L185.5 1247L185.1 1246.5L182.8 1246.5L182.4 1246.2L181.7 1246.2L181.3 1247.2L178.2 1247.2L177.8 1246.4L174.7 1246.4L174.3 1244.3L171.2 1244.1L170.8 1243.8L169.7 1243.8L169.3 1243.6L168.5 1243.6L167.7 1243.3L167.3 1243.3L166.9 1243.6L163.8 1243.6L163.1 1240.5L160.4 1240.5L160 1238.3L158 1238.3L157.6 1237.6L156.2 1237.6L156.2 1234.9Z" fill="#fe0000" stroke="#fe0000"/></g>
<g font-size="69.2" text-anchor="middle"><text x="152.00" y="1357.4">10</text><text x="345.68" y="1357.4">20</text><text x="539.35" y="1357.4">30</text><text x="733.02" y="1357.4">40</text><text x="926.70" y="1357.4">50</text><text x="1120.38" y="1357.4">60</text><text x="1314.05" y="1357.4">70</text><text x="1507.72" y="1357.4">80</text><text x="1701.40" y="1357.4">90</text></g>
<g font-size="69.4" text-anchor="middle"><text x="393.5" y="975.6">(211)</text><text x="553.5" y="401.4">(222)</text><text x="655.3" y="235.6">(400)</text><text x="956.3" y="727.4">(440)</text><text x="1137.3" y="767.6">(622)</text><text x="1424.2" y="1016.6">(800)</text></g>

<rect x="1050.6" y="174.7" width="150.8" height="9.6" rx="3.5" fill="#000"/><rect x="1050.6" y="272.5" width="150.8" height="9.6" rx="3.5" fill="#fe0000"/>
<g class="lg" font-size="65" transform="translate(1213.6 0) scale(0.949 1)"><text y="200.9"><tspan x="-2.1">In</tspan><tspan x="51.0" y="225.5" font-size="39" class="ns">2</tspan><tspan x="72.4" y="200.9">O</tspan><tspan x="119.4" y="225.5" font-size="39" class="ns">3 </tspan><tspan x="155" y="200.9">crystal</tspan></text>
<text x="-2.1" y="299.3">ITO nanorod</text></g>
<text class="b" font-size="77" transform="translate(65.8 920.8) rotate(-90) scale(0.972 1)">Intensity (a. u.)</text>
<text class="b" font-size="73" y="1445.2"><tspan x="819.6">2</tspan><tspan x="858.5">θ </tspan><tspan x="923">(</tspan><tspan x="945.5" dy="2.5" font-size="79">°</tspan><tspan x="980.3" dy="-2.5">)</tspan></text>

</svg>
</body></html>
